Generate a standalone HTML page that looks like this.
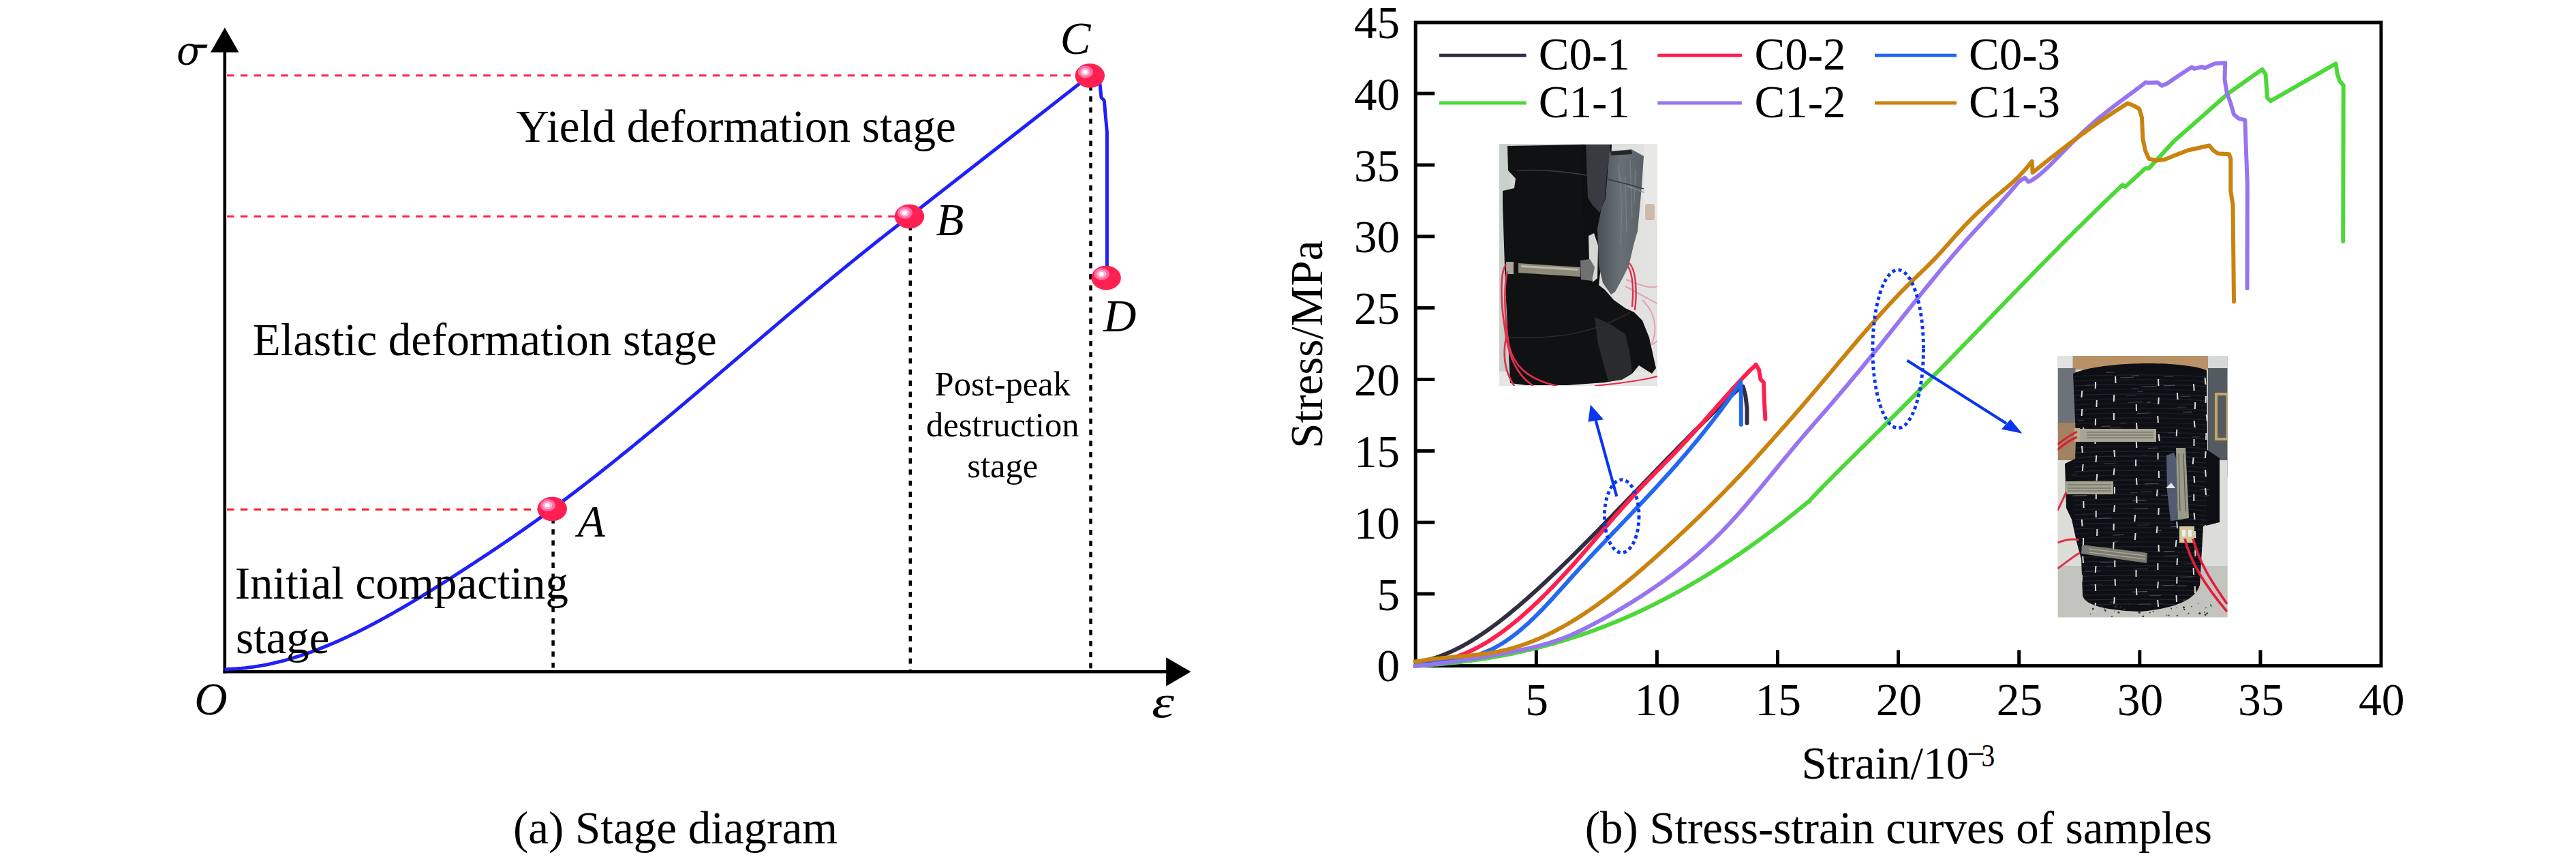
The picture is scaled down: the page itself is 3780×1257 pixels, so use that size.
<!DOCTYPE html><html><head><meta charset="utf-8"><style>
html,body{margin:0;padding:0;background:#fff;}
svg{display:block;}
text{font-family:"Liberation Serif",serif;fill:#000;}
</style></head><body>
<svg width="3780" height="1257" viewBox="0 0 3780 1257">
<defs>
<radialGradient id="ball" cx="0.35" cy="0.35" r="0.7">
<stop offset="0" stop-color="#ffffff"/>
<stop offset="0.12" stop-color="#ffe0f0"/>
<stop offset="0.2" stop-color="#ff90c0"/>
<stop offset="0.38" stop-color="#ff2a5e"/>
<stop offset="1" stop-color="#ff1f52"/>
</radialGradient>
</defs>

<g>
<line x1="329.8" y1="70" x2="329.8" y2="987.6" stroke="#000" stroke-width="4.6"/>
<polygon points="329.8,40.5 309,76.8 350.6,76.8" fill="#000"/>
<line x1="327.5" y1="985.3" x2="1716" y2="985.3" stroke="#000" stroke-width="4.6"/>
<polygon points="1747.5,985.3 1711.2,964.2 1711.2,1006.4" fill="#000"/>
<line x1="333" y1="110.8" x2="1590" y2="110.8" stroke="#ff2052" stroke-width="3" stroke-dasharray="10.5 9.3"/>
<line x1="333" y1="317.5" x2="1325" y2="317.5" stroke="#ff2050" stroke-width="3" stroke-dasharray="10.5 9.3"/>
<line x1="333" y1="747.3" x2="800" y2="747.3" stroke="#ff1c1c" stroke-width="3" stroke-dasharray="10.5 9.3"/>
<line x1="811.6" y1="760" x2="811.6" y2="984" stroke="#000" stroke-width="4.5" stroke-dasharray="7.7 8.6"/>
<line x1="1335.8" y1="330" x2="1335.8" y2="984" stroke="#000" stroke-width="4.5" stroke-dasharray="7.7 8.6"/>
<line x1="1600.5" y1="125" x2="1600.5" y2="984" stroke="#000" stroke-width="4.5" stroke-dasharray="7.7 8.6"/>
<path d="M332.0,982.0 L334.5,981.3 L337.0,981.3 L339.5,981.2 L342.0,981.0 L344.5,980.9 L347.0,980.8 L349.5,980.6 L352.0,980.4 L354.5,980.2 L357.0,979.9 L359.5,979.7 L362.0,979.4 L364.5,979.1 L367.0,978.8 L369.5,978.5 L372.0,978.1 L374.5,977.8 L377.0,977.4 L379.5,977.0 L382.0,976.5 L384.5,976.1 L387.0,975.6 L389.5,975.2 L392.0,974.7 L394.5,974.2 L397.0,973.6 L399.5,973.1 L402.0,972.5 L404.5,971.9 L407.0,971.3 L409.5,970.7 L412.0,970.1 L414.5,969.5 L417.0,968.8 L419.5,968.1 L422.0,967.4 L424.5,966.7 L427.0,966.0 L429.5,965.2 L432.0,964.5 L434.5,963.7 L437.0,962.9 L439.5,962.1 L442.0,961.3 L444.5,960.5 L447.0,959.6 L449.5,958.8 L452.0,957.9 L454.5,957.0 L457.0,956.1 L459.5,955.2 L462.0,954.3 L464.5,953.3 L467.0,952.4 L469.5,951.4 L472.0,950.4 L474.5,949.4 L477.0,948.4 L479.5,947.4 L482.0,946.4 L484.5,945.3 L487.0,944.2 L489.5,943.2 L492.0,942.1 L494.5,941.0 L497.0,939.9 L499.5,938.8 L502.0,937.6 L504.5,936.5 L507.0,935.3 L509.5,934.2 L512.0,933.0 L514.5,931.8 L517.0,930.6 L519.5,929.4 L522.0,928.2 L524.5,927.0 L527.0,925.7 L529.5,924.5 L532.0,923.2 L534.5,922.0 L537.0,920.7 L539.5,919.4 L542.0,918.1 L544.5,916.8 L547.0,915.5 L549.5,914.2 L552.0,912.8 L554.5,911.5 L557.0,910.2 L559.5,908.8 L562.0,907.4 L564.5,906.1 L567.0,904.7 L569.5,903.3 L572.0,901.9 L574.5,900.5 L577.0,899.1 L579.5,897.7 L582.0,896.2 L584.5,894.8 L587.0,893.4 L589.5,891.9 L592.0,890.5 L594.5,889.0 L597.0,887.5 L599.5,886.1 L602.0,884.6 L604.5,883.1 L607.0,881.6 L609.5,880.1 L612.0,878.6 L614.5,877.1 L617.0,875.6 L619.5,874.1 L622.0,872.5 L624.5,871.0 L627.0,869.5 L629.5,867.9 L632.0,866.4 L634.5,864.8 L637.0,863.3 L639.5,861.7 L642.0,860.1 L644.5,858.6 L647.0,857.0 L649.5,855.4 L652.0,853.8 L654.5,852.3 L657.0,850.7 L659.5,849.1 L662.0,847.5 L664.5,845.9 L667.0,844.3 L669.5,842.7 L672.0,841.1 L674.5,839.4 L677.0,837.8 L679.5,836.2 L682.0,834.6 L684.5,833.0 L687.0,831.4 L689.5,829.7 L692.0,828.1 L694.5,826.5 L697.0,824.8 L699.5,823.2 L702.0,821.5 L704.5,819.9 L707.0,818.3 L709.5,816.6 L712.0,814.9 L714.5,813.3 L717.0,811.6 L719.5,810.0 L722.0,808.3 L724.5,806.6 L727.0,804.9 L729.5,803.3 L732.0,801.6 L734.5,799.9 L737.0,798.2 L739.5,796.5 L742.0,794.8 L744.5,793.1 L747.0,791.4 L749.5,789.7 L752.0,788.0 L754.5,786.3 L757.0,784.5 L759.5,782.8 L762.0,781.1 L764.5,779.3 L767.0,777.6 L769.5,775.8 L772.0,774.1 L774.5,772.3 L777.0,770.6 L779.5,768.8 L782.0,767.0 L784.5,765.2 L787.0,763.5 L789.5,761.7 L792.0,759.9 L794.5,758.1 L797.0,756.3 L799.5,754.4 L802.0,752.6 L804.5,750.8 L807.0,749.0 L809.5,747.1 L812.0,745.3 L814.5,743.4 L817.0,741.6 L819.5,739.7 L822.0,737.9 L824.5,736.0 L827.0,734.1 L829.5,732.3 L832.0,730.4 L834.5,728.5 L837.0,726.6 L839.5,724.7 L842.0,722.8 L844.5,720.9 L847.0,719.0 L849.5,717.1 L852.0,715.2 L854.5,713.2 L857.0,711.3 L859.5,709.4 L862.0,707.4 L864.5,705.5 L867.0,703.5 L869.5,701.6 L872.0,699.6 L874.5,697.7 L877.0,695.7 L879.5,693.8 L882.0,691.8 L884.5,689.8 L887.0,687.8 L889.5,685.8 L892.0,683.9 L894.5,681.9 L897.0,679.9 L899.5,677.9 L902.0,675.9 L904.5,673.9 L907.0,671.9 L909.5,669.8 L912.0,667.8 L914.5,665.8 L917.0,663.8 L919.5,661.8 L922.0,659.7 L924.5,657.7 L927.0,655.7 L929.5,653.6 L932.0,651.6 L934.5,649.5 L937.0,647.5 L939.5,645.4 L942.0,643.4 L944.5,641.3 L947.0,639.3 L949.5,637.2 L952.0,635.1 L954.5,633.1 L957.0,631.0 L959.5,628.9 L962.0,626.9 L964.5,624.8 L967.0,622.7 L969.5,620.6 L972.0,618.5 L974.5,616.5 L977.0,614.4 L979.5,612.3 L982.0,610.2 L984.5,608.1 L987.0,606.0 L989.5,603.9 L992.0,601.8 L994.5,599.7 L997.0,597.6 L999.5,595.5 L1002.0,593.4 L1004.5,591.3 L1007.0,589.2 L1009.5,587.0 L1012.0,584.9 L1014.5,582.8 L1017.0,580.7 L1019.5,578.6 L1022.0,576.5 L1024.5,574.3 L1027.0,572.2 L1029.5,570.1 L1032.0,568.0 L1034.5,565.8 L1037.0,563.7 L1039.5,561.6 L1042.0,559.5 L1044.5,557.3 L1047.0,555.2 L1049.5,553.1 L1052.0,550.9 L1054.5,548.8 L1057.0,546.7 L1059.5,544.5 L1062.0,542.4 L1064.5,540.3 L1067.0,538.1 L1069.5,536.0 L1072.0,533.9 L1074.5,531.7 L1077.0,529.6 L1079.5,527.5 L1082.0,525.3 L1084.5,523.2 L1087.0,521.1 L1089.5,518.9 L1092.0,516.8 L1094.5,514.6 L1097.0,512.5 L1099.5,510.4 L1102.0,508.2 L1104.5,506.1 L1107.0,504.0 L1109.5,501.8 L1112.0,499.7 L1114.5,497.6 L1117.0,495.4 L1119.5,493.3 L1122.0,491.2 L1124.5,489.0 L1127.0,486.9 L1129.5,484.8 L1132.0,482.6 L1134.5,480.5 L1137.0,478.4 L1139.5,476.3 L1142.0,474.1 L1144.5,472.0 L1147.0,469.9 L1149.5,467.8 L1152.0,465.6 L1154.5,463.5 L1157.0,461.4 L1159.5,459.3 L1162.0,457.2 L1164.5,455.1 L1167.0,453.0 L1169.5,450.8 L1172.0,448.7 L1174.5,446.6 L1177.0,444.5 L1179.5,442.4 L1182.0,440.3 L1184.5,438.2 L1187.0,436.1 L1189.5,434.0 L1192.0,431.9 L1194.5,429.8 L1197.0,427.7 L1199.5,425.7 L1202.0,423.6 L1204.5,421.5 L1207.0,419.4 L1209.5,417.3 L1212.0,415.2 L1214.5,413.2 L1217.0,411.1 L1219.5,409.0 L1222.0,407.0 L1224.5,404.9 L1227.0,402.8 L1229.5,400.8 L1232.0,398.7 L1234.5,396.7 L1237.0,394.6 L1239.5,392.6 L1242.0,390.5 L1244.5,388.5 L1247.0,386.4 L1249.5,384.4 L1252.0,382.4 L1254.5,380.4 L1257.0,378.3 L1259.5,376.3 L1262.0,374.3 L1264.5,372.3 L1267.0,370.3 L1269.5,368.2 L1272.0,366.2 L1274.5,364.2 L1277.0,362.2 L1279.5,360.2 L1282.0,358.3 L1284.5,356.3 L1287.0,354.3 L1289.5,352.3 L1292.0,350.3 L1294.5,348.4 L1297.0,346.4 L1299.5,344.4 L1302.0,342.5 L1304.5,340.5 L1307.0,338.6 L1309.5,336.6 L1312.0,334.7 L1314.5,332.7 L1317.0,330.8 L1319.5,328.9 L1322.0,327.0 L1324.5,325.0 L1327.0,323.1 L1329.5,321.2 L1332.0,319.3 L1334.5,317.5 L1599.3,110.8 L1613.9,122.0 L1616.0,143.0 L1620.2,147.2 L1624.4,193.4 L1624.4,392.8 L1623.2,407.5" fill="none" stroke="#2020f8" stroke-width="5" stroke-linejoin="round" stroke-linecap="round"/>
<ellipse cx="810.3" cy="746.5" rx="21.7" ry="17.8" fill="#ff2052"/>
<ellipse cx="803.8" cy="741.0" rx="11" ry="9" fill="#ff6fa8"/>
<ellipse cx="803.5" cy="741.0" rx="7" ry="5.8" fill="#ffb0d4"/>
<ellipse cx="803.3" cy="741.0" rx="3.6" ry="3" fill="#ffffff"/>
<ellipse cx="1334.5" cy="317.5" rx="21.7" ry="17.8" fill="#ff2052"/>
<ellipse cx="1328.0" cy="312.0" rx="11" ry="9" fill="#ff6fa8"/>
<ellipse cx="1327.7" cy="312.0" rx="7" ry="5.8" fill="#ffb0d4"/>
<ellipse cx="1327.5" cy="312.0" rx="3.6" ry="3" fill="#ffffff"/>
<ellipse cx="1599.3" cy="111" rx="21.7" ry="17.8" fill="#ff2052"/>
<ellipse cx="1592.8" cy="105.5" rx="11" ry="9" fill="#ff6fa8"/>
<ellipse cx="1592.5" cy="105.5" rx="7" ry="5.8" fill="#ffb0d4"/>
<ellipse cx="1592.3" cy="105.5" rx="3.6" ry="3" fill="#ffffff"/>
<ellipse cx="1623.2" cy="407.5" rx="21.7" ry="17.8" fill="#ff2052"/>
<ellipse cx="1616.7" cy="402.0" rx="11" ry="9" fill="#ff6fa8"/>
<ellipse cx="1616.4" cy="402.0" rx="7" ry="5.8" fill="#ffb0d4"/>
<ellipse cx="1616.2" cy="402.0" rx="3.6" ry="3" fill="#ffffff"/>
<text x="757.3" y="207.6" font-size="67.2">Yield deformation stage</text>
<text x="370.8" y="521.2" font-size="67">Elastic deformation stage</text>
<text x="344.8" y="878" font-size="67">Initial compacting</text>
<text x="345.9" y="958" font-size="67">stage</text>
<text x="1471.2" y="580" font-size="50.5" text-anchor="middle">Post-peak</text>
<text x="1471.2" y="640" font-size="50.5" text-anchor="middle">destruction</text>
<text x="1471.2" y="700.3" font-size="50.5" text-anchor="middle">stage</text>
<text x="753" y="1237" font-size="67">(a) Stage diagram</text>
<g font-style="italic">
<text x="847.5" y="787.2" font-size="66">A</text>
<text x="1373.6" y="344.5" font-size="67">B</text>
<text x="1555.8" y="79.2" font-size="67">C</text>
<text x="1619" y="485.7" font-size="67">D</text>
<text x="285.2" y="1048.3" font-size="67">O</text>
<text x="1690" y="1052.3" font-size="67" transform="translate(1690,0) scale(1.25,1) translate(-1690,0)">ε</text>
<text x="259.4" y="95.4" font-size="65">o</text>
<path d="M276,66.6 C279,65.6 283,65.4 287,65.4 L304.6,65.4 L303.2,70.2 L289.5,70.2 L286,69.5 Z" fill="#000"/>
</g>
</g>
<g>
<g>
<defs><clipPath id="p1"><rect x="2200" y="211" width="232" height="355"/></clipPath>
<linearGradient id="bg1" x1="0" y1="0" x2="1" y2="0"><stop offset="0" stop-color="#cfd3cf"/><stop offset="0.6" stop-color="#dcdedb"/><stop offset="1" stop-color="#e3e4e2"/></linearGradient>
<linearGradient id="gp1" x1="0" y1="0" x2="1" y2="0"><stop offset="0" stop-color="#4a5055"/><stop offset="0.5" stop-color="#687076"/><stop offset="1" stop-color="#596066"/></linearGradient>
</defs>
<g clip-path="url(#p1)">
<rect x="2200" y="211" width="232" height="355" fill="url(#bg1)"/>
<rect x="2200" y="211" width="15" height="355" fill="#c9cfca"/>
<rect x="2412" y="211" width="20" height="110" fill="#e8e9e6"/>
<rect x="2414" y="299" width="14" height="24" rx="4" fill="#b89474" opacity="0.55"/>
<rect x="2200" y="545" width="232" height="21" fill="#e6e6e4"/>
<path d="M2386,410 C2400,415 2420,425 2432,420 M2385,420 C2405,430 2420,440 2432,445 M2410,440 C2425,455 2430,470 2428,490 C2425,505 2420,510 2432,500" stroke="#e690a8" stroke-width="2" fill="none" opacity="0.8"/>
<path d="M2383,386 C2395,390 2398,420 2395,450 M2388,384 C2402,392 2402,430 2399,455" stroke="#e0304a" stroke-width="2.4" fill="none"/>
<path d="M2212,214 L2327,212 L2329,300 L2333,370 L2338,412 L2355,425 L2368,440 L2385,452 L2398,458 L2410,470 L2420,495 L2430,540 L2424,548 L2405,536 L2395,548 L2380,556 L2355,561 L2300,565 L2240,565 L2216,562 L2213,500 L2209,420 L2205,300 L2205,280 L2222,276 L2224,262 L2213,250 Z" fill="#101112"/>
<path d="M2320,212 L2365,212 L2362,300 L2352,360 L2346,420 L2330,420 L2322,300 Z" fill="#0e0f10"/>
<path d="M2327,212 L2362,212 L2363,222 L2358,252 L2355,291 L2347,313 L2346,310 L2336,300 L2330,290 Z" fill="#383c40"/>
<path d="M2331,346 L2339,342 L2345,360 L2344,408 L2337,414 L2332,385 Z" fill="#d6d8d5"/>
<path d="M2362,222 L2394,219 L2412,229 L2409,274 L2403,339 L2398,356 L2390,390 L2380,410 L2370,428 L2364,432 L2352,415 L2346,390 L2344,335 L2350,305 L2356,291 L2359,252 Z" fill="url(#gp1)"/>
<path d="M2363,222 L2394,220 L2395,226 L2364,228 Z" fill="#222426"/>
<path d="M2375,240 L2380,300 L2378,360 M2392,235 L2395,320 M2400,250 L2398,300 M2385,260 L2387,340" stroke="#7c848a" stroke-width="1.3" fill="none" opacity="0.8"/>
<path d="M2340,465 L2362,475 L2385,490 L2392,520 L2395,548 L2380,557 L2360,560 L2352,530 L2345,505 Z" fill="#2a2b2d"/>
<path d="M2226,250 C2270,248 2330,252 2412,277" stroke="#3c3c3e" stroke-width="1.6" fill="none"/>
<path d="M2388,273 C2398,276 2405,280 2412,282" stroke="#8a8a8a" stroke-width="1.5" fill="none"/>
<path d="M2213,495 C2270,497 2330,494 2392,458" stroke="#2a2a2c" stroke-width="1.5" fill="none"/>
<path d="M2228,386 L2319,392 L2319,406 L2228,400 Z" fill="#8d897a"/>
<path d="M2232,389 L2316,394 L2316,397 L2232,392 Z" fill="#bdb8a6"/>
<rect x="2210" y="384" width="11" height="18" fill="#a8a496"/>
<path d="M2319,382 L2333,380 L2340,392 L2336,412 L2320,410 Z" fill="#6e7072"/>
<path d="M2210,388 C2200,400 2203,450 2208,480 C2212,520 2225,550 2250,566 M2212,398 C2206,420 2208,470 2214,505 C2220,535 2240,556 2285,566 M2210,495 C2205,520 2208,545 2222,566" stroke="#e0304a" stroke-width="2.6" fill="none"/>
<path d="M2340,566 C2380,562 2410,558 2432,552" stroke="#e0304a" stroke-width="2" fill="none"/>
</g></g>
<g>
<defs><clipPath id="p2"><rect x="3019.5" y="522" width="249.2" height="383.5"/></clipPath></defs>
<g clip-path="url(#p2)">
<rect x="3019.5" y="522" width="249.2" height="383.5" fill="#cfcfca"/>
<rect x="3019.5" y="522" width="249.2" height="20" fill="#b89266"/>
<rect x="3019.5" y="522" width="22" height="22" fill="#e2e2e0"/>
<rect x="3240" y="522" width="28.7" height="20" fill="#d6d8da"/>
<rect x="3019.5" y="540" width="26" height="90" fill="#6c7278"/>
<rect x="3019.5" y="620" width="26" height="55" fill="#a08262"/>
<rect x="3240" y="540" width="28.7" height="160" fill="#545a60"/>
<rect x="3252" y="578" width="16.7" height="66" fill="none" stroke="#c8a468" stroke-width="4"/>
<rect x="3019.5" y="675" width="249.2" height="230.5" fill="#dcdcd8"/>
<rect x="3019.5" y="830" width="249.2" height="75.5" fill="#c4c4bf"/>
<defs><clipPath id="cyl2"><path d="M3042,548 C3080,530 3200,528 3238,543 L3239,660 L3257,672 L3257,766 L3233,772 L3228,858 C3222,880 3190,893 3140,897 C3080,895 3058,885 3056,873 L3054,820 L3047,794 L3040,762 L3032,745 L3030,680 L3045,673 L3046,640 Z"/></clipPath></defs>
<path d="M3042,548 C3080,530 3200,528 3238,543 L3239,660 L3257,672 L3257,766 L3233,772 L3228,858 C3222,880 3190,893 3140,897 C3080,895 3058,885 3056,873 L3054,820 L3047,794 L3040,762 L3032,745 L3030,680 L3045,673 L3046,640 Z" fill="#0e0f14"/>
<g clip-path="url(#cyl2)">
<path d="M3044,552 C3100,549 3190,549 3238,553" stroke="#40444f" stroke-width="1.3" fill="none" opacity="0.33"/>
<path d="M3044,559 C3100,556 3190,556 3238,560" stroke="#40444f" stroke-width="1.3" fill="none" opacity="0.29"/>
<path d="M3044,566 C3100,563 3190,563 3238,567" stroke="#40444f" stroke-width="1.3" fill="none" opacity="0.41"/>
<path d="M3044,573 C3100,570 3190,570 3238,574" stroke="#40444f" stroke-width="1.3" fill="none" opacity="0.27"/>
<path d="M3044,580 C3100,577 3190,577 3238,581" stroke="#40444f" stroke-width="1.3" fill="none" opacity="0.38"/>
<path d="M3044,587 C3100,584 3190,584 3238,588" stroke="#40444f" stroke-width="1.3" fill="none" opacity="0.34"/>
<path d="M3044,594 C3100,591 3190,591 3238,595" stroke="#40444f" stroke-width="1.3" fill="none" opacity="0.26"/>
<path d="M3044,601 C3100,598 3190,598 3238,602" stroke="#40444f" stroke-width="1.3" fill="none" opacity="0.38"/>
<path d="M3044,608 C3100,605 3190,605 3238,609" stroke="#40444f" stroke-width="1.3" fill="none" opacity="0.26"/>
<path d="M3044,615 C3100,612 3190,612 3238,616" stroke="#40444f" stroke-width="1.3" fill="none" opacity="0.36"/>
<path d="M3044,622 C3100,619 3190,619 3238,623" stroke="#40444f" stroke-width="1.3" fill="none" opacity="0.27"/>
<path d="M3044,629 C3100,626 3190,626 3238,630" stroke="#40444f" stroke-width="1.3" fill="none" opacity="0.27"/>
<path d="M3044,636 C3100,633 3190,633 3238,637" stroke="#40444f" stroke-width="1.3" fill="none" opacity="0.36"/>
<path d="M3044,643 C3100,640 3190,640 3238,644" stroke="#40444f" stroke-width="1.3" fill="none" opacity="0.46"/>
<path d="M3044,650 C3100,647 3190,647 3238,651" stroke="#40444f" stroke-width="1.3" fill="none" opacity="0.28"/>
<path d="M3044,657 C3100,654 3190,654 3238,658" stroke="#40444f" stroke-width="1.3" fill="none" opacity="0.31"/>
<path d="M3044,664 C3100,661 3190,661 3238,665" stroke="#40444f" stroke-width="1.3" fill="none" opacity="0.41"/>
<path d="M3044,671 C3100,668 3190,668 3238,672" stroke="#40444f" stroke-width="1.3" fill="none" opacity="0.49"/>
<path d="M3044,678 C3100,675 3190,675 3238,679" stroke="#40444f" stroke-width="1.3" fill="none" opacity="0.39"/>
<path d="M3044,685 C3100,682 3190,682 3238,686" stroke="#40444f" stroke-width="1.3" fill="none" opacity="0.35"/>
<path d="M3044,692 C3100,689 3190,689 3238,693" stroke="#40444f" stroke-width="1.3" fill="none" opacity="0.49"/>
<path d="M3044,699 C3100,696 3190,696 3238,700" stroke="#40444f" stroke-width="1.3" fill="none" opacity="0.26"/>
<path d="M3044,706 C3100,703 3190,703 3238,707" stroke="#40444f" stroke-width="1.3" fill="none" opacity="0.46"/>
<path d="M3044,713 C3100,710 3190,710 3238,714" stroke="#40444f" stroke-width="1.3" fill="none" opacity="0.32"/>
<path d="M3044,720 C3100,717 3190,717 3238,721" stroke="#40444f" stroke-width="1.3" fill="none" opacity="0.29"/>
<path d="M3044,727 C3100,724 3190,724 3238,728" stroke="#40444f" stroke-width="1.3" fill="none" opacity="0.28"/>
<path d="M3044,734 C3100,731 3190,731 3238,735" stroke="#40444f" stroke-width="1.3" fill="none" opacity="0.33"/>
<path d="M3044,741 C3100,738 3190,738 3238,742" stroke="#40444f" stroke-width="1.3" fill="none" opacity="0.45"/>
<path d="M3044,748 C3100,745 3190,745 3238,749" stroke="#40444f" stroke-width="1.3" fill="none" opacity="0.30"/>
<path d="M3044,755 C3100,752 3190,752 3238,756" stroke="#40444f" stroke-width="1.3" fill="none" opacity="0.40"/>
<path d="M3044,762 C3100,759 3190,759 3238,763" stroke="#40444f" stroke-width="1.3" fill="none" opacity="0.41"/>
<path d="M3044,769 C3100,766 3190,766 3238,770" stroke="#40444f" stroke-width="1.3" fill="none" opacity="0.34"/>
<path d="M3044,776 C3100,773 3190,773 3238,777" stroke="#40444f" stroke-width="1.3" fill="none" opacity="0.39"/>
<path d="M3044,783 C3100,780 3190,780 3238,784" stroke="#40444f" stroke-width="1.3" fill="none" opacity="0.27"/>
<path d="M3044,790 C3100,787 3190,787 3238,791" stroke="#40444f" stroke-width="1.3" fill="none" opacity="0.26"/>
<path d="M3044,797 C3100,794 3190,794 3238,798" stroke="#40444f" stroke-width="1.3" fill="none" opacity="0.30"/>
<path d="M3044,804 C3100,801 3190,801 3238,805" stroke="#40444f" stroke-width="1.3" fill="none" opacity="0.42"/>
<path d="M3044,811 C3100,808 3190,808 3238,812" stroke="#40444f" stroke-width="1.3" fill="none" opacity="0.36"/>
<path d="M3044,818 C3100,815 3190,815 3238,819" stroke="#40444f" stroke-width="1.3" fill="none" opacity="0.33"/>
<path d="M3044,825 C3100,822 3190,822 3238,826" stroke="#40444f" stroke-width="1.3" fill="none" opacity="0.40"/>
<path d="M3044,832 C3100,829 3190,829 3238,833" stroke="#40444f" stroke-width="1.3" fill="none" opacity="0.36"/>
<path d="M3044,839 C3100,836 3190,836 3238,840" stroke="#40444f" stroke-width="1.3" fill="none" opacity="0.32"/>
<path d="M3044,846 C3100,843 3190,843 3238,847" stroke="#40444f" stroke-width="1.3" fill="none" opacity="0.45"/>
<path d="M3044,853 C3100,850 3190,850 3238,854" stroke="#40444f" stroke-width="1.3" fill="none" opacity="0.42"/>
<path d="M3044,860 C3100,857 3190,857 3238,861" stroke="#40444f" stroke-width="1.3" fill="none" opacity="0.31"/>
<path d="M3044,867 C3100,864 3190,864 3238,868" stroke="#40444f" stroke-width="1.3" fill="none" opacity="0.39"/>
<path d="M3044,874 C3100,871 3190,871 3238,875" stroke="#40444f" stroke-width="1.3" fill="none" opacity="0.38"/>
<path d="M3044,881 C3100,878 3190,878 3238,882" stroke="#40444f" stroke-width="1.3" fill="none" opacity="0.47"/>
<path d="M3044,888 C3100,885 3190,885 3238,889" stroke="#40444f" stroke-width="1.3" fill="none" opacity="0.43"/>
<line x1="3095.5" y1="883.2" x2="3103.4" y2="882.9" stroke="#8a92a0" stroke-width="1.1" opacity="0.40"/>
<line x1="3194.0" y1="597.4" x2="3207.8" y2="597.0" stroke="#8a92a0" stroke-width="1.1" opacity="0.26"/>
<line x1="3175.3" y1="808.8" x2="3190.5" y2="808.3" stroke="#8a92a0" stroke-width="1.1" opacity="0.56"/>
<line x1="3100.9" y1="784.9" x2="3116.4" y2="784.4" stroke="#8a92a0" stroke-width="1.1" opacity="0.45"/>
<line x1="3130.8" y1="834.8" x2="3151.9" y2="834.2" stroke="#8a92a0" stroke-width="1.1" opacity="0.42"/>
<line x1="3174.5" y1="565.9" x2="3191.7" y2="565.4" stroke="#8a92a0" stroke-width="1.1" opacity="0.48"/>
<line x1="3243.6" y1="828.6" x2="3254.1" y2="828.2" stroke="#8a92a0" stroke-width="1.1" opacity="0.39"/>
<line x1="3175.4" y1="552.8" x2="3188.8" y2="552.4" stroke="#8a92a0" stroke-width="1.1" opacity="0.31"/>
<line x1="3059.6" y1="565.3" x2="3077.9" y2="564.8" stroke="#8a92a0" stroke-width="1.1" opacity="0.30"/>
<line x1="3087.0" y1="679.9" x2="3106.9" y2="679.3" stroke="#8a92a0" stroke-width="1.1" opacity="0.28"/>
<line x1="3129.3" y1="734.6" x2="3149.5" y2="734.0" stroke="#8a92a0" stroke-width="1.1" opacity="0.54"/>
<line x1="3216.4" y1="641.1" x2="3229.1" y2="640.7" stroke="#8a92a0" stroke-width="1.1" opacity="0.38"/>
<line x1="3220.7" y1="875.4" x2="3229.1" y2="875.2" stroke="#8a92a0" stroke-width="1.1" opacity="0.31"/>
<line x1="3083.7" y1="625.5" x2="3097.5" y2="625.1" stroke="#8a92a0" stroke-width="1.1" opacity="0.46"/>
<line x1="3090.2" y1="546.4" x2="3102.9" y2="546.0" stroke="#8a92a0" stroke-width="1.1" opacity="0.38"/>
<line x1="3153.9" y1="873.8" x2="3171.0" y2="873.3" stroke="#8a92a0" stroke-width="1.1" opacity="0.43"/>
<line x1="3164.7" y1="778.3" x2="3171.6" y2="778.1" stroke="#8a92a0" stroke-width="1.1" opacity="0.56"/>
<line x1="3198.8" y1="846.7" x2="3217.6" y2="846.1" stroke="#8a92a0" stroke-width="1.1" opacity="0.39"/>
<line x1="3118.8" y1="580.7" x2="3134.9" y2="580.2" stroke="#8a92a0" stroke-width="1.1" opacity="0.27"/>
<line x1="3049.1" y1="617.0" x2="3057.7" y2="616.8" stroke="#8a92a0" stroke-width="1.1" opacity="0.37"/>
<line x1="3046.0" y1="545.1" x2="3054.5" y2="544.8" stroke="#8a92a0" stroke-width="1.1" opacity="0.29"/>
<line x1="3111.4" y1="553.8" x2="3131.3" y2="553.2" stroke="#8a92a0" stroke-width="1.1" opacity="0.46"/>
<line x1="3066.2" y1="632.0" x2="3077.8" y2="631.7" stroke="#8a92a0" stroke-width="1.1" opacity="0.38"/>
<line x1="3060.8" y1="837.9" x2="3082.7" y2="837.2" stroke="#8a92a0" stroke-width="1.1" opacity="0.41"/>
<line x1="3136.6" y1="574.6" x2="3144.2" y2="574.4" stroke="#8a92a0" stroke-width="1.1" opacity="0.37"/>
<line x1="3090.6" y1="831.0" x2="3099.2" y2="830.7" stroke="#8a92a0" stroke-width="1.1" opacity="0.26"/>
<line x1="3234.7" y1="727.2" x2="3243.1" y2="727.0" stroke="#8a92a0" stroke-width="1.1" opacity="0.44"/>
<line x1="3040.7" y1="727.2" x2="3062.3" y2="726.5" stroke="#8a92a0" stroke-width="1.1" opacity="0.55"/>
<line x1="3181.2" y1="635.1" x2="3193.1" y2="634.7" stroke="#8a92a0" stroke-width="1.1" opacity="0.31"/>
<line x1="3197.1" y1="728.7" x2="3215.6" y2="728.2" stroke="#8a92a0" stroke-width="1.1" opacity="0.37"/>
<line x1="3081.8" y1="825.0" x2="3103.6" y2="824.3" stroke="#8a92a0" stroke-width="1.1" opacity="0.55"/>
<line x1="3204.3" y1="827.3" x2="3222.1" y2="826.8" stroke="#8a92a0" stroke-width="1.1" opacity="0.33"/>
<line x1="3143.7" y1="667.7" x2="3150.2" y2="667.5" stroke="#8a92a0" stroke-width="1.1" opacity="0.26"/>
<line x1="3093.7" y1="634.4" x2="3110.8" y2="633.9" stroke="#8a92a0" stroke-width="1.1" opacity="0.58"/>
<line x1="3128.9" y1="868.3" x2="3150.7" y2="867.6" stroke="#8a92a0" stroke-width="1.1" opacity="0.58"/>
<line x1="3111.6" y1="621.1" x2="3121.2" y2="620.8" stroke="#8a92a0" stroke-width="1.1" opacity="0.32"/>
<line x1="3077.9" y1="760.3" x2="3098.3" y2="759.7" stroke="#8a92a0" stroke-width="1.1" opacity="0.54"/>
<line x1="3135.7" y1="770.3" x2="3154.5" y2="769.7" stroke="#8a92a0" stroke-width="1.1" opacity="0.28"/>
<line x1="3173.7" y1="858.9" x2="3192.2" y2="858.3" stroke="#8a92a0" stroke-width="1.1" opacity="0.51"/>
<line x1="3135.4" y1="606.6" x2="3154.0" y2="606.0" stroke="#8a92a0" stroke-width="1.1" opacity="0.37"/>
<line x1="3203.2" y1="880.2" x2="3215.5" y2="879.9" stroke="#8a92a0" stroke-width="1.1" opacity="0.39"/>
<line x1="3233.8" y1="795.1" x2="3242.5" y2="794.8" stroke="#8a92a0" stroke-width="1.1" opacity="0.29"/>
<line x1="3066.7" y1="857.2" x2="3085.6" y2="856.6" stroke="#8a92a0" stroke-width="1.1" opacity="0.30"/>
<line x1="3208.6" y1="883.2" x2="3225.1" y2="882.7" stroke="#8a92a0" stroke-width="1.1" opacity="0.37"/>
<line x1="3150.2" y1="590.2" x2="3156.4" y2="590.0" stroke="#8a92a0" stroke-width="1.1" opacity="0.59"/>
<line x1="3171.4" y1="726.7" x2="3192.4" y2="726.0" stroke="#8a92a0" stroke-width="1.1" opacity="0.40"/>
<line x1="3218.1" y1="830.0" x2="3227.4" y2="829.7" stroke="#8a92a0" stroke-width="1.1" opacity="0.34"/>
<line x1="3096.5" y1="628.0" x2="3111.9" y2="627.5" stroke="#8a92a0" stroke-width="1.1" opacity="0.34"/>
<line x1="3123.0" y1="590.2" x2="3143.6" y2="589.6" stroke="#8a92a0" stroke-width="1.1" opacity="0.37"/>
<line x1="3131.2" y1="746.3" x2="3151.7" y2="745.6" stroke="#8a92a0" stroke-width="1.1" opacity="0.40"/>
<line x1="3227.7" y1="718.1" x2="3242.2" y2="717.6" stroke="#8a92a0" stroke-width="1.1" opacity="0.43"/>
<line x1="3038.9" y1="696.8" x2="3047.9" y2="696.6" stroke="#8a92a0" stroke-width="1.1" opacity="0.25"/>
<line x1="3202.8" y1="604.5" x2="3216.4" y2="604.1" stroke="#8a92a0" stroke-width="1.1" opacity="0.50"/>
<line x1="3151.9" y1="657.5" x2="3166.2" y2="657.0" stroke="#8a92a0" stroke-width="1.1" opacity="0.44"/>
<line x1="3199.7" y1="581.6" x2="3214.7" y2="581.2" stroke="#8a92a0" stroke-width="1.1" opacity="0.34"/>
<line x1="3093.2" y1="811.4" x2="3107.3" y2="811.0" stroke="#8a92a0" stroke-width="1.1" opacity="0.45"/>
<line x1="3194.6" y1="859.8" x2="3207.7" y2="859.4" stroke="#8a92a0" stroke-width="1.1" opacity="0.46"/>
<line x1="3141.2" y1="721.7" x2="3158.2" y2="721.2" stroke="#8a92a0" stroke-width="1.1" opacity="0.41"/>
<line x1="3147.0" y1="709.9" x2="3168.1" y2="709.3" stroke="#8a92a0" stroke-width="1.1" opacity="0.49"/>
<line x1="3219.1" y1="870.1" x2="3229.2" y2="869.7" stroke="#8a92a0" stroke-width="1.1" opacity="0.45"/>
<line x1="3233.1" y1="834.8" x2="3241.3" y2="834.6" stroke="#8a92a0" stroke-width="1.1" opacity="0.29"/>
<line x1="3127.8" y1="570.0" x2="3137.7" y2="569.7" stroke="#8a92a0" stroke-width="1.1" opacity="0.28"/>
<line x1="3175.6" y1="815.5" x2="3195.9" y2="814.8" stroke="#8a92a0" stroke-width="1.1" opacity="0.30"/>
<line x1="3185.4" y1="772.8" x2="3193.7" y2="772.5" stroke="#8a92a0" stroke-width="1.1" opacity="0.56"/>
<line x1="3238.2" y1="620.8" x2="3259.4" y2="620.1" stroke="#8a92a0" stroke-width="1.1" opacity="0.39"/>
<line x1="3137.3" y1="886.5" x2="3156.6" y2="885.9" stroke="#8a92a0" stroke-width="1.1" opacity="0.31"/>
<line x1="3125.6" y1="722.9" x2="3137.0" y2="722.5" stroke="#8a92a0" stroke-width="1.1" opacity="0.32"/>
<line x1="3101.9" y1="794.1" x2="3108.2" y2="794.0" stroke="#8a92a0" stroke-width="1.1" opacity="0.44"/>
<line x1="3127.5" y1="551.2" x2="3138.8" y2="550.9" stroke="#8a92a0" stroke-width="1.1" opacity="0.47"/>
<line x1="3142.6" y1="567.2" x2="3164.3" y2="566.5" stroke="#8a92a0" stroke-width="1.1" opacity="0.53"/>
<line x1="3055.3" y1="573" x2="3054.4" y2="583" stroke="#dcdcdc" stroke-width="2"/>
<line x1="3055.3" y1="600" x2="3054.6" y2="610" stroke="#dcdcdc" stroke-width="2"/>
<line x1="3057.2" y1="627" x2="3057.9" y2="637" stroke="#dcdcdc" stroke-width="2"/>
<line x1="3054.9" y1="654" x2="3055.8" y2="664" stroke="#dcdcdc" stroke-width="2"/>
<line x1="3056.6" y1="681" x2="3055.8" y2="691" stroke="#dcdcdc" stroke-width="2"/>
<line x1="3056.6" y1="708" x2="3056.4" y2="718" stroke="#dcdcdc" stroke-width="2"/>
<line x1="3057.3" y1="735" x2="3057.6" y2="745" stroke="#dcdcdc" stroke-width="2"/>
<line x1="3054.8" y1="762" x2="3055.5" y2="772" stroke="#dcdcdc" stroke-width="2"/>
<line x1="3057.1" y1="789" x2="3057.0" y2="799" stroke="#dcdcdc" stroke-width="2"/>
<line x1="3056.2" y1="816" x2="3057.0" y2="826" stroke="#dcdcdc" stroke-width="2"/>
<line x1="3054.9" y1="843" x2="3054.9" y2="853" stroke="#dcdcdc" stroke-width="2"/>
<line x1="3054.8" y1="870" x2="3054.2" y2="880" stroke="#dcdcdc" stroke-width="2"/>
<line x1="3075.1" y1="560" x2="3074.7" y2="570" stroke="#dcdcdc" stroke-width="2"/>
<line x1="3076.8" y1="587" x2="3076.4" y2="597" stroke="#dcdcdc" stroke-width="2"/>
<line x1="3075.0" y1="614" x2="3074.7" y2="624" stroke="#dcdcdc" stroke-width="2"/>
<line x1="3075.3" y1="641" x2="3074.3" y2="651" stroke="#dcdcdc" stroke-width="2"/>
<line x1="3076.2" y1="668" x2="3075.5" y2="678" stroke="#dcdcdc" stroke-width="2"/>
<line x1="3077.3" y1="695" x2="3076.5" y2="705" stroke="#dcdcdc" stroke-width="2"/>
<line x1="3075.8" y1="722" x2="3075.8" y2="732" stroke="#dcdcdc" stroke-width="2"/>
<line x1="3075.7" y1="749" x2="3075.7" y2="759" stroke="#dcdcdc" stroke-width="2"/>
<line x1="3077.4" y1="776" x2="3077.1" y2="786" stroke="#dcdcdc" stroke-width="2"/>
<line x1="3076.6" y1="803" x2="3076.9" y2="813" stroke="#dcdcdc" stroke-width="2"/>
<line x1="3075.5" y1="830" x2="3074.7" y2="840" stroke="#dcdcdc" stroke-width="2"/>
<line x1="3074.7" y1="857" x2="3075.2" y2="867" stroke="#dcdcdc" stroke-width="2"/>
<line x1="3075.0" y1="884" x2="3074.2" y2="894" stroke="#dcdcdc" stroke-width="2"/>
<line x1="3104.1" y1="552" x2="3104.5" y2="562" stroke="#dcdcdc" stroke-width="2"/>
<line x1="3102.2" y1="579" x2="3101.8" y2="589" stroke="#dcdcdc" stroke-width="2"/>
<line x1="3102.0" y1="606" x2="3101.9" y2="616" stroke="#dcdcdc" stroke-width="2"/>
<line x1="3104.4" y1="633" x2="3105.3" y2="643" stroke="#dcdcdc" stroke-width="2"/>
<line x1="3102.2" y1="660" x2="3103.2" y2="670" stroke="#dcdcdc" stroke-width="2"/>
<line x1="3102.6" y1="687" x2="3101.6" y2="697" stroke="#dcdcdc" stroke-width="2"/>
<line x1="3102.9" y1="714" x2="3102.9" y2="724" stroke="#dcdcdc" stroke-width="2"/>
<line x1="3103.0" y1="741" x2="3102.0" y2="751" stroke="#dcdcdc" stroke-width="2"/>
<line x1="3101.8" y1="768" x2="3101.6" y2="778" stroke="#dcdcdc" stroke-width="2"/>
<line x1="3101.6" y1="795" x2="3101.2" y2="805" stroke="#dcdcdc" stroke-width="2"/>
<line x1="3103.3" y1="822" x2="3103.3" y2="832" stroke="#dcdcdc" stroke-width="2"/>
<line x1="3103.5" y1="849" x2="3103.9" y2="859" stroke="#dcdcdc" stroke-width="2"/>
<line x1="3102.7" y1="876" x2="3102.3" y2="886" stroke="#dcdcdc" stroke-width="2"/>
<line x1="3134.7" y1="593" x2="3135.0" y2="603" stroke="#dcdcdc" stroke-width="2"/>
<line x1="3135.0" y1="620" x2="3135.8" y2="630" stroke="#dcdcdc" stroke-width="2"/>
<line x1="3134.7" y1="647" x2="3135.3" y2="657" stroke="#dcdcdc" stroke-width="2"/>
<line x1="3134.1" y1="674" x2="3134.1" y2="684" stroke="#dcdcdc" stroke-width="2"/>
<line x1="3134.9" y1="701" x2="3135.6" y2="711" stroke="#dcdcdc" stroke-width="2"/>
<line x1="3135.2" y1="728" x2="3135.5" y2="738" stroke="#dcdcdc" stroke-width="2"/>
<line x1="3133.2" y1="755" x2="3132.3" y2="765" stroke="#dcdcdc" stroke-width="2"/>
<line x1="3133.6" y1="782" x2="3132.8" y2="792" stroke="#dcdcdc" stroke-width="2"/>
<line x1="3134.2" y1="809" x2="3134.4" y2="819" stroke="#dcdcdc" stroke-width="2"/>
<line x1="3134.5" y1="836" x2="3134.5" y2="846" stroke="#dcdcdc" stroke-width="2"/>
<line x1="3134.9" y1="863" x2="3135.4" y2="873" stroke="#dcdcdc" stroke-width="2"/>
<line x1="3167.1" y1="556" x2="3167.4" y2="566" stroke="#dcdcdc" stroke-width="2"/>
<line x1="3167.7" y1="583" x2="3167.2" y2="593" stroke="#dcdcdc" stroke-width="2"/>
<line x1="3166.3" y1="610" x2="3166.8" y2="620" stroke="#dcdcdc" stroke-width="2"/>
<line x1="3167.7" y1="637" x2="3168.7" y2="647" stroke="#dcdcdc" stroke-width="2"/>
<line x1="3166.6" y1="664" x2="3166.6" y2="674" stroke="#dcdcdc" stroke-width="2"/>
<line x1="3167.8" y1="691" x2="3168.0" y2="701" stroke="#dcdcdc" stroke-width="2"/>
<line x1="3165.7" y1="718" x2="3165.0" y2="728" stroke="#dcdcdc" stroke-width="2"/>
<line x1="3167.7" y1="745" x2="3167.3" y2="755" stroke="#dcdcdc" stroke-width="2"/>
<line x1="3165.5" y1="772" x2="3164.7" y2="782" stroke="#dcdcdc" stroke-width="2"/>
<line x1="3167.5" y1="799" x2="3167.9" y2="809" stroke="#dcdcdc" stroke-width="2"/>
<line x1="3166.4" y1="826" x2="3166.4" y2="836" stroke="#dcdcdc" stroke-width="2"/>
<line x1="3166.9" y1="853" x2="3166.1" y2="863" stroke="#dcdcdc" stroke-width="2"/>
<line x1="3166.1" y1="880" x2="3167.1" y2="890" stroke="#dcdcdc" stroke-width="2"/>
<line x1="3194.9" y1="576" x2="3195.5" y2="586" stroke="#dcdcdc" stroke-width="2"/>
<line x1="3194.3" y1="630" x2="3193.7" y2="640" stroke="#dcdcdc" stroke-width="2"/>
<line x1="3195.2" y1="684" x2="3194.5" y2="694" stroke="#dcdcdc" stroke-width="2"/>
<line x1="3196.4" y1="711" x2="3195.6" y2="721" stroke="#dcdcdc" stroke-width="2"/>
<line x1="3195.0" y1="738" x2="3195.8" y2="748" stroke="#dcdcdc" stroke-width="2"/>
<line x1="3194.2" y1="765" x2="3195.0" y2="775" stroke="#dcdcdc" stroke-width="2"/>
<line x1="3193.6" y1="792" x2="3192.6" y2="802" stroke="#dcdcdc" stroke-width="2"/>
<line x1="3194.9" y1="819" x2="3194.5" y2="829" stroke="#dcdcdc" stroke-width="2"/>
<line x1="3194.5" y1="846" x2="3194.2" y2="856" stroke="#dcdcdc" stroke-width="2"/>
<line x1="3193.5" y1="873" x2="3194.0" y2="883" stroke="#dcdcdc" stroke-width="2"/>
<line x1="3218.9" y1="563" x2="3219.7" y2="573" stroke="#dcdcdc" stroke-width="2"/>
<line x1="3221.2" y1="590" x2="3220.8" y2="600" stroke="#dcdcdc" stroke-width="2"/>
<line x1="3219.7" y1="617" x2="3220.7" y2="627" stroke="#dcdcdc" stroke-width="2"/>
<line x1="3219.6" y1="644" x2="3219.4" y2="654" stroke="#dcdcdc" stroke-width="2"/>
<line x1="3218.6" y1="671" x2="3217.8" y2="681" stroke="#dcdcdc" stroke-width="2"/>
<line x1="3219.4" y1="698" x2="3220.2" y2="708" stroke="#dcdcdc" stroke-width="2"/>
<line x1="3219.3" y1="725" x2="3219.3" y2="735" stroke="#dcdcdc" stroke-width="2"/>
<line x1="3219.6" y1="752" x2="3220.5" y2="762" stroke="#dcdcdc" stroke-width="2"/>
<line x1="3220.9" y1="779" x2="3221.2" y2="789" stroke="#dcdcdc" stroke-width="2"/>
<line x1="3221.3" y1="806" x2="3221.4" y2="816" stroke="#dcdcdc" stroke-width="2"/>
<line x1="3218.6" y1="833" x2="3219.1" y2="843" stroke="#dcdcdc" stroke-width="2"/>
<line x1="3220.8" y1="860" x2="3221.0" y2="870" stroke="#dcdcdc" stroke-width="2"/>
<line x1="3235.6" y1="554" x2="3236.5" y2="564" stroke="#dcdcdc" stroke-width="2"/>
<line x1="3236.9" y1="581" x2="3236.6" y2="591" stroke="#dcdcdc" stroke-width="2"/>
<line x1="3237.7" y1="608" x2="3238.7" y2="618" stroke="#dcdcdc" stroke-width="2"/>
<line x1="3237.5" y1="635" x2="3237.1" y2="645" stroke="#dcdcdc" stroke-width="2"/>
<line x1="3236.7" y1="662" x2="3236.0" y2="672" stroke="#dcdcdc" stroke-width="2"/>
<line x1="3236.1" y1="689" x2="3236.9" y2="699" stroke="#dcdcdc" stroke-width="2"/>
<line x1="3236.2" y1="716" x2="3237.0" y2="726" stroke="#dcdcdc" stroke-width="2"/>
<line x1="3235.9" y1="770" x2="3235.3" y2="780" stroke="#dcdcdc" stroke-width="2"/>
<line x1="3236.5" y1="797" x2="3235.7" y2="807" stroke="#dcdcdc" stroke-width="2"/>
<line x1="3236.3" y1="824" x2="3236.4" y2="834" stroke="#dcdcdc" stroke-width="2"/>
<line x1="3237.7" y1="851" x2="3237.6" y2="861" stroke="#dcdcdc" stroke-width="2"/>
<line x1="3237.1" y1="878" x2="3236.8" y2="888" stroke="#dcdcdc" stroke-width="2"/>
</g>
<rect x="3048" y="629" width="116" height="19" fill="#a8a796"/>
<path d="M3062,634 L3160,634 M3062,638 L3160,638 M3062,642 L3160,642" stroke="#5d5c54" stroke-width="1"/>
<rect x="3044" y="628" width="8" height="20" fill="#b8b090"/>
<rect x="3030" y="706" width="71" height="19" fill="#a5a493"/>
<path d="M3034,711 L3098,711 M3034,716 L3098,716 M3034,720 L3098,720" stroke="#5d5c54" stroke-width="1"/>
<path d="M3055,799 L3151,811 L3150,826 L3054,812 Z" fill="#7b7a70"/>
<path d="M3065,805 L3148,815 M3065,810 L3148,820" stroke="#a9a898" stroke-width="1.5"/>
<path d="M3179,668 L3190,664 L3200,690 L3204,762 L3185,764 L3180,720 Z" fill="#56647a" opacity="0.9"/>
<path d="M3193,657 L3207,657 L3212,760 L3196,762 Z" fill="#9a9a88"/>
<path d="M3197,665 L3199,750 M3204,665 L3207,750" stroke="#5a5a50" stroke-width="1.2"/>
<path d="M3178,716 L3186,708 L3192,716 Z" fill="#e8e8e8"/>
<rect x="3198" y="772" width="22" height="24" fill="#d0c898"/>
<rect x="3202" y="777" width="5" height="10" fill="#eeeeee"/><rect x="3211" y="777" width="5" height="10" fill="#eeeeee"/>
<path d="M3019,652 C3028,645 3038,638 3048,633 M3019,660 C3028,652 3038,645 3048,641" stroke="#d81e30" stroke-width="3" fill="none"/>
<path d="M3019,749 C3024,740 3028,730 3032,722 M3019,796 C3030,792 3042,790 3050,792 M3019,834 C3032,825 3044,815 3052,811" stroke="#e0304a" stroke-width="3" fill="none"/>
<path d="M3206,790 C3215,830 3245,870 3268,897 M3218,790 C3228,830 3252,862 3268,886" stroke="#e21e3c" stroke-width="3.6" fill="none"/>
<circle cx="3124.3" cy="886.2" r="0.9" fill="#333"/>
<circle cx="3243.9" cy="887.5" r="1.1" fill="#333"/>
<circle cx="3179.6" cy="902.3" r="0.8" fill="#333"/>
<circle cx="3111.5" cy="890.0" r="1.0" fill="#333"/>
<circle cx="3144.7" cy="904.1" r="1.4" fill="#333"/>
<circle cx="3225.8" cy="885.4" r="0.6" fill="#333"/>
<circle cx="3194.8" cy="902.9" r="1.1" fill="#333"/>
<circle cx="3171.6" cy="885.0" r="1.0" fill="#333"/>
<circle cx="3236.1" cy="901.5" r="1.5" fill="#333"/>
<circle cx="3244.7" cy="890.0" r="0.7" fill="#333"/>
<circle cx="3089.3" cy="895.4" r="1.3" fill="#333"/>
<circle cx="3238.9" cy="899.4" r="1.2" fill="#333"/>
<circle cx="3205.3" cy="894.1" r="1.2" fill="#333"/>
<circle cx="3067.5" cy="900.6" r="0.8" fill="#333"/>
<circle cx="3234.8" cy="897.9" r="0.9" fill="#333"/>
<circle cx="3084.3" cy="890.0" r="1.2" fill="#333"/>
<circle cx="3192.7" cy="887.2" r="0.7" fill="#333"/>
<circle cx="3159.6" cy="896.7" r="1.0" fill="#333"/>
<circle cx="3102.5" cy="897.0" r="0.6" fill="#333"/>
<circle cx="3117.3" cy="894.2" r="1.6" fill="#333"/>
<circle cx="3182.5" cy="902.7" r="1.1" fill="#333"/>
<circle cx="3104.6" cy="889.9" r="1.6" fill="#333"/>
<circle cx="3193.9" cy="891.1" r="0.6" fill="#333"/>
<circle cx="3154.7" cy="898.5" r="1.0" fill="#333"/>
<circle cx="3108.9" cy="898.3" r="1.5" fill="#333"/>
<circle cx="3103.1" cy="885.7" r="0.9" fill="#333"/>
<circle cx="3139.9" cy="898.7" r="0.8" fill="#333"/>
<circle cx="3211.4" cy="899.8" r="1.1" fill="#333"/>
<circle cx="3099.0" cy="904.4" r="0.9" fill="#333"/>
<circle cx="3215.8" cy="889.6" r="0.8" fill="#333"/>
<circle cx="3204.5" cy="890.9" r="1.6" fill="#333"/>
<circle cx="3154.2" cy="888.7" r="0.8" fill="#333"/>
<circle cx="3139.2" cy="898.3" r="1.5" fill="#333"/>
<circle cx="3087.8" cy="892.9" r="0.8" fill="#333"/>
<circle cx="3245.1" cy="887.8" r="0.7" fill="#333"/>
<circle cx="3071.4" cy="892.9" r="1.5" fill="#333"/>
<circle cx="3227.9" cy="899.7" r="1.6" fill="#333"/>
<circle cx="3237.0" cy="891.6" r="0.8" fill="#333"/>
<circle cx="3237.8" cy="899.9" r="0.6" fill="#333"/>
<circle cx="3186.2" cy="892.6" r="1.0" fill="#333"/>
</g></g>
<rect x="2077.2" y="33" width="1416.8" height="943.6" fill="none" stroke="#000" stroke-width="5"/>
<line x1="2077" y1="871.0" x2="2105.3" y2="871.0" stroke="#000" stroke-width="5"/>
<line x1="2077" y1="766.2" x2="2105.3" y2="766.2" stroke="#000" stroke-width="5"/>
<line x1="2077" y1="661.4" x2="2105.3" y2="661.4" stroke="#000" stroke-width="5"/>
<line x1="2077" y1="556.5" x2="2105.3" y2="556.5" stroke="#000" stroke-width="5"/>
<line x1="2077" y1="451.6" x2="2105.3" y2="451.6" stroke="#000" stroke-width="5"/>
<line x1="2077" y1="346.8" x2="2105.3" y2="346.8" stroke="#000" stroke-width="5"/>
<line x1="2077" y1="242.0" x2="2105.3" y2="242.0" stroke="#000" stroke-width="5"/>
<line x1="2077" y1="137.1" x2="2105.3" y2="137.1" stroke="#000" stroke-width="5"/>
<line x1="2254.3" y1="976.6" x2="2254.3" y2="953.5" stroke="#000" stroke-width="5"/>
<line x1="2431.4" y1="976.6" x2="2431.4" y2="953.5" stroke="#000" stroke-width="5"/>
<line x1="2608.5" y1="976.6" x2="2608.5" y2="953.5" stroke="#000" stroke-width="5"/>
<line x1="2785.6" y1="976.6" x2="2785.6" y2="953.5" stroke="#000" stroke-width="5"/>
<line x1="2962.7" y1="976.6" x2="2962.7" y2="953.5" stroke="#000" stroke-width="5"/>
<line x1="3139.8" y1="976.6" x2="3139.8" y2="953.5" stroke="#000" stroke-width="5"/>
<line x1="3316.9" y1="976.6" x2="3316.9" y2="953.5" stroke="#000" stroke-width="5"/>
<path d="M2077.2,970.0 L2079.7,971.1 L2082.2,970.7 L2084.7,970.3 L2087.2,969.8 L2089.7,969.3 L2092.2,968.7 L2094.7,968.1 L2097.2,967.4 L2099.7,966.8 L2102.2,966.0 L2104.7,965.3 L2107.2,964.5 L2109.7,963.6 L2112.2,962.8 L2114.7,961.8 L2117.2,960.9 L2119.7,959.9 L2122.2,958.9 L2124.7,957.8 L2127.2,956.7 L2129.7,955.6 L2132.2,954.4 L2134.7,953.3 L2137.2,952.0 L2139.7,950.8 L2142.2,949.5 L2144.7,948.2 L2147.2,946.8 L2149.7,945.4 L2152.2,944.0 L2154.7,942.6 L2157.2,941.1 L2159.7,939.6 L2162.2,938.0 L2164.7,936.5 L2167.2,934.9 L2169.7,933.3 L2172.2,931.6 L2174.7,930.0 L2177.2,928.3 L2179.7,926.6 L2182.2,924.8 L2184.7,923.0 L2187.2,921.3 L2189.7,919.4 L2192.2,917.6 L2194.7,915.7 L2197.2,913.9 L2199.7,912.0 L2202.2,910.0 L2204.7,908.1 L2207.2,906.1 L2209.7,904.1 L2212.2,902.1 L2214.7,900.1 L2217.2,898.0 L2219.7,896.0 L2222.2,893.9 L2224.7,891.8 L2227.2,889.7 L2229.7,887.6 L2232.2,885.4 L2234.7,883.3 L2237.2,881.1 L2239.7,878.9 L2242.2,876.7 L2244.7,874.5 L2247.2,872.2 L2249.7,870.0 L2252.2,867.7 L2254.7,865.5 L2257.2,863.2 L2259.7,860.9 L2262.2,858.6 L2264.7,856.3 L2267.2,854.0 L2269.7,851.6 L2272.2,849.3 L2274.7,846.9 L2277.2,844.6 L2279.7,842.2 L2282.2,839.8 L2284.7,837.4 L2287.2,835.1 L2289.7,832.6 L2292.2,830.2 L2294.7,827.8 L2297.2,825.4 L2299.7,823.0 L2302.2,820.5 L2304.7,818.1 L2307.2,815.6 L2309.7,813.1 L2312.2,810.7 L2314.7,808.2 L2317.2,805.7 L2319.7,803.2 L2322.2,800.7 L2324.7,798.2 L2327.2,795.7 L2329.7,793.2 L2332.2,790.7 L2334.7,788.2 L2337.2,785.6 L2339.7,783.1 L2342.2,780.6 L2344.7,778.0 L2347.2,775.5 L2349.7,772.9 L2352.2,770.4 L2354.7,767.8 L2357.2,765.2 L2359.7,762.7 L2362.2,760.1 L2364.7,757.5 L2367.2,755.0 L2369.7,752.4 L2372.2,749.8 L2374.7,747.2 L2377.2,744.7 L2379.7,742.1 L2382.2,739.5 L2384.7,736.9 L2387.2,734.3 L2389.7,731.7 L2392.2,729.1 L2394.7,726.5 L2397.2,723.9 L2399.7,721.3 L2402.2,718.8 L2404.7,716.2 L2407.2,713.6 L2409.7,711.0 L2412.2,708.4 L2414.7,705.8 L2417.2,703.2 L2419.7,700.6 L2422.2,698.0 L2424.7,695.4 L2427.2,692.8 L2429.7,690.3 L2432.2,687.7 L2434.7,685.1 L2437.2,682.5 L2439.7,679.9 L2442.2,677.4 L2444.7,674.8 L2447.2,672.2 L2449.7,669.7 L2452.2,667.1 L2454.7,664.6 L2457.2,662.0 L2459.7,659.5 L2462.2,656.9 L2464.7,654.4 L2467.2,651.8 L2469.7,649.3 L2472.2,646.8 L2474.7,644.3 L2477.2,641.7 L2479.7,639.2 L2482.2,636.7 L2484.7,634.2 L2487.2,631.7 L2489.7,629.2 L2492.2,626.8 L2494.7,624.3 L2497.2,621.8 L2499.7,619.4 L2502.2,616.9 L2504.7,614.5 L2507.2,612.0 L2509.7,609.6 L2512.2,607.2 L2514.7,604.7 L2517.2,602.3 L2519.7,599.9 L2522.2,597.5 L2524.7,595.2 L2527.2,592.8 L2529.7,590.4 L2532.2,588.1 L2534.7,585.7 L2537.2,583.4 L2539.7,581.1 L2542.2,578.7 L2544.7,576.4 L2547.2,574.1 L2549.7,571.8 L2550.7,570.3 L2557.7,566.8 L2561.2,579.7 L2563.5,598.3 L2563.5,620.5" fill="none" stroke="#302e40" stroke-width="6" stroke-linejoin="round" stroke-linecap="round"/>
<path d="M2077.2,970.5 L2079.7,970.5 L2082.2,970.7 L2084.7,970.9 L2087.2,971.0 L2089.7,971.0 L2092.2,971.0 L2094.7,971.0 L2097.2,970.9 L2099.7,970.8 L2102.2,970.6 L2104.7,970.4 L2107.2,970.1 L2109.7,969.8 L2112.2,969.4 L2114.7,969.0 L2117.2,968.5 L2119.7,968.0 L2122.2,967.4 L2124.7,966.8 L2127.2,966.2 L2129.7,965.5 L2132.2,964.8 L2134.7,964.0 L2137.2,963.2 L2139.7,962.3 L2142.2,961.4 L2144.7,960.5 L2147.2,959.5 L2149.7,958.5 L2152.2,957.4 L2154.7,956.3 L2157.2,955.2 L2159.7,954.0 L2162.2,952.8 L2164.7,951.5 L2167.2,950.2 L2169.7,948.9 L2172.2,947.5 L2174.7,946.1 L2177.2,944.7 L2179.7,943.2 L2182.2,941.7 L2184.7,940.1 L2187.2,938.6 L2189.7,936.9 L2192.2,935.3 L2194.7,933.6 L2197.2,931.9 L2199.7,930.1 L2202.2,928.4 L2204.7,926.6 L2207.2,924.7 L2209.7,922.8 L2212.2,920.9 L2214.7,919.0 L2217.2,917.0 L2219.7,915.0 L2222.2,913.0 L2224.7,910.9 L2227.2,908.9 L2229.7,906.7 L2232.2,904.6 L2234.7,902.4 L2237.2,900.2 L2239.7,898.0 L2242.2,895.8 L2244.7,893.5 L2247.2,891.2 L2249.7,888.9 L2252.2,886.5 L2254.7,884.2 L2257.2,881.8 L2259.7,879.4 L2262.2,876.9 L2264.7,874.5 L2267.2,872.0 L2269.7,869.5 L2272.2,866.9 L2274.7,864.4 L2277.2,861.8 L2279.7,859.2 L2282.2,856.6 L2284.7,854.0 L2287.2,851.3 L2289.7,848.7 L2292.2,846.0 L2294.7,843.3 L2297.2,840.6 L2299.7,837.8 L2302.2,835.1 L2304.7,832.3 L2307.2,829.5 L2309.7,826.7 L2312.2,823.9 L2314.7,821.1 L2317.2,818.2 L2319.7,815.4 L2322.2,812.5 L2324.7,809.6 L2327.2,806.8 L2329.7,803.9 L2332.2,801.0 L2334.7,798.1 L2337.2,795.2 L2339.7,792.3 L2342.2,789.3 L2344.7,786.4 L2347.2,783.5 L2349.7,780.6 L2352.2,777.7 L2354.7,774.8 L2357.2,771.9 L2359.7,769.0 L2362.2,766.1 L2364.7,763.2 L2367.2,760.3 L2369.7,757.4 L2372.2,754.6 L2374.7,751.7 L2377.2,748.9 L2379.7,746.0 L2382.2,743.2 L2384.7,740.4 L2387.2,737.6 L2389.7,734.8 L2392.2,732.1 L2394.7,729.3 L2397.2,726.6 L2399.7,723.9 L2402.2,721.2 L2404.7,718.6 L2407.2,715.9 L2409.7,713.3 L2412.2,710.7 L2414.7,708.1 L2417.2,705.5 L2419.7,702.9 L2422.2,700.4 L2424.7,697.8 L2427.2,695.3 L2429.7,692.7 L2432.2,690.2 L2434.7,687.7 L2437.2,685.1 L2439.7,682.6 L2442.2,680.0 L2444.7,677.5 L2447.2,674.9 L2449.7,672.4 L2452.2,669.8 L2454.7,667.2 L2457.2,664.6 L2459.7,662.0 L2462.2,659.4 L2464.7,656.8 L2467.2,654.1 L2469.7,651.5 L2472.2,648.8 L2474.7,646.1 L2477.2,643.4 L2479.7,640.6 L2482.2,637.9 L2484.7,635.1 L2487.2,632.4 L2489.7,629.6 L2492.2,626.8 L2494.7,624.0 L2497.2,621.2 L2499.7,618.4 L2502.2,615.6 L2504.7,612.8 L2507.2,609.9 L2509.7,607.1 L2512.2,604.3 L2514.7,601.5 L2517.2,598.6 L2519.7,595.8 L2522.2,593.0 L2524.7,590.2 L2527.2,587.4 L2529.7,584.6 L2532.2,581.8 L2534.7,579.0 L2537.2,576.2 L2539.7,573.4 L2542.2,570.6 L2544.7,567.9 L2547.2,565.2 L2549.7,562.4 L2552.2,559.7 L2554.7,557.0 L2557.2,554.4 L2559.7,551.7 L2562.2,549.1 L2564.7,546.5 L2567.2,543.9 L2569.7,541.3 L2571.7,540.0 L2576.6,534.7 L2581.0,542.3 L2583.4,556.3 L2588.0,561.0 L2589.2,593.7 L2590.4,614.7" fill="none" stroke="#ff2050" stroke-width="6" stroke-linejoin="round" stroke-linecap="round"/>
<path d="M2077.2,971.0 L2079.7,970.7 L2082.2,970.7 L2084.7,970.7 L2087.2,970.6 L2089.7,970.6 L2092.2,970.6 L2094.7,970.5 L2097.2,970.5 L2099.7,970.4 L2102.2,970.3 L2104.7,970.2 L2107.2,970.1 L2109.7,970.0 L2112.2,969.9 L2114.7,969.8 L2117.2,969.6 L2119.7,969.4 L2122.2,969.2 L2124.7,969.0 L2127.2,968.8 L2129.7,968.5 L2132.2,968.2 L2134.7,967.9 L2137.2,967.6 L2139.7,967.2 L2142.2,966.8 L2144.7,966.4 L2147.2,965.9 L2149.7,965.4 L2152.2,964.9 L2154.7,964.3 L2157.2,963.7 L2159.7,963.1 L2162.2,962.4 L2164.7,961.6 L2167.2,960.9 L2169.7,960.1 L2172.2,959.2 L2174.7,958.3 L2177.2,957.4 L2179.7,956.4 L2182.2,955.3 L2184.7,954.2 L2187.2,953.1 L2189.7,951.9 L2192.2,950.6 L2194.7,949.3 L2197.2,947.9 L2199.7,946.5 L2202.2,945.0 L2204.7,943.5 L2207.2,941.9 L2209.7,940.2 L2212.2,938.5 L2214.7,936.8 L2217.2,935.0 L2219.7,933.1 L2222.2,931.2 L2224.7,929.3 L2227.2,927.3 L2229.7,925.2 L2232.2,923.1 L2234.7,921.0 L2237.2,918.8 L2239.7,916.6 L2242.2,914.4 L2244.7,912.1 L2247.2,909.7 L2249.7,907.3 L2252.2,904.9 L2254.7,902.4 L2257.2,899.9 L2259.7,897.4 L2262.2,894.8 L2264.7,892.3 L2267.2,889.6 L2269.7,887.0 L2272.2,884.3 L2274.7,881.6 L2277.2,878.9 L2279.7,876.1 L2282.2,873.4 L2284.7,870.6 L2287.2,867.8 L2289.7,865.0 L2292.2,862.2 L2294.7,859.4 L2297.2,856.7 L2299.7,853.9 L2302.2,851.1 L2304.7,848.3 L2307.2,845.5 L2309.7,842.8 L2312.2,840.0 L2314.7,837.3 L2317.2,834.5 L2319.7,831.8 L2322.2,829.1 L2324.7,826.4 L2327.2,823.7 L2329.7,821.0 L2332.2,818.3 L2334.7,815.6 L2337.2,813.0 L2339.7,810.3 L2342.2,807.7 L2344.7,805.0 L2347.2,802.4 L2349.7,799.7 L2352.2,797.1 L2354.7,794.5 L2357.2,791.8 L2359.7,789.2 L2362.2,786.6 L2364.7,783.9 L2367.2,781.3 L2369.7,778.7 L2372.2,776.1 L2374.7,773.5 L2377.2,770.9 L2379.7,768.2 L2382.2,765.6 L2384.7,763.0 L2387.2,760.4 L2389.7,757.8 L2392.2,755.1 L2394.7,752.5 L2397.2,749.9 L2399.7,747.2 L2402.2,744.6 L2404.7,742.0 L2407.2,739.3 L2409.7,736.7 L2412.2,734.0 L2414.7,731.3 L2417.2,728.7 L2419.7,726.0 L2422.2,723.3 L2424.7,720.6 L2427.2,717.9 L2429.7,715.2 L2432.2,712.5 L2434.7,709.8 L2437.2,707.0 L2439.7,704.3 L2442.2,701.5 L2444.7,698.8 L2447.2,696.0 L2449.7,693.2 L2452.2,690.4 L2454.7,687.6 L2457.2,684.7 L2459.7,681.9 L2462.2,679.0 L2464.7,676.2 L2467.2,673.3 L2469.7,670.4 L2472.2,667.5 L2474.7,664.6 L2477.2,661.6 L2479.7,658.7 L2482.2,655.7 L2484.7,652.7 L2487.2,649.7 L2489.7,646.6 L2492.2,643.6 L2494.7,640.5 L2497.2,637.4 L2499.7,634.3 L2502.2,631.2 L2504.7,628.0 L2507.2,624.9 L2509.7,621.7 L2512.2,618.5 L2514.7,615.2 L2517.2,612.0 L2519.7,608.7 L2522.2,605.4 L2524.7,602.1 L2527.2,598.7 L2529.7,595.3 L2532.2,591.9 L2534.7,588.5 L2537.2,585.1 L2539.7,581.6 L2542.2,578.1 L2544.7,574.6 L2547.2,571.0 L2549.7,567.4 L2552.2,563.8 L2554.2,559.8 L2554.9,586.7 L2554.9,622.8" fill="none" stroke="#2468f0" stroke-width="6" stroke-linejoin="round" stroke-linecap="round"/>
<path d="M2076.3,977.0 L2078.8,976.4 L2081.3,976.3 L2083.8,976.1 L2086.3,976.0 L2088.8,975.8 L2091.3,975.7 L2093.8,975.5 L2096.3,975.4 L2098.8,975.2 L2101.3,975.0 L2103.8,974.8 L2106.3,974.6 L2108.8,974.4 L2111.3,974.2 L2113.8,974.0 L2116.3,973.8 L2118.8,973.5 L2121.3,973.3 L2123.8,973.0 L2126.3,972.8 L2128.8,972.5 L2131.3,972.3 L2133.8,972.0 L2136.3,971.7 L2138.8,971.4 L2141.3,971.2 L2143.8,970.9 L2146.3,970.6 L2148.8,970.3 L2151.3,969.9 L2153.8,969.6 L2156.3,969.3 L2158.8,968.9 L2161.3,968.6 L2163.8,968.2 L2166.3,967.9 L2168.8,967.5 L2171.3,967.2 L2173.8,966.8 L2176.3,966.4 L2178.8,966.0 L2181.3,965.6 L2183.8,965.2 L2186.3,964.8 L2188.8,964.3 L2191.3,963.9 L2193.8,963.5 L2196.3,963.0 L2198.8,962.6 L2201.3,962.1 L2203.8,961.6 L2206.3,961.2 L2208.8,960.7 L2211.3,960.2 L2213.8,959.7 L2216.3,959.2 L2218.8,958.7 L2221.3,958.2 L2223.8,957.6 L2226.3,957.1 L2228.8,956.6 L2231.3,956.0 L2233.8,955.4 L2236.3,954.9 L2238.8,954.3 L2241.3,953.7 L2243.8,953.1 L2246.3,952.5 L2248.8,951.9 L2251.3,951.3 L2253.8,950.7 L2256.3,950.1 L2258.8,949.4 L2261.3,948.8 L2263.8,948.1 L2266.3,947.5 L2268.8,946.8 L2271.3,946.1 L2273.8,945.4 L2276.3,944.7 L2278.8,944.0 L2281.3,943.3 L2283.8,942.6 L2286.3,941.9 L2288.8,941.1 L2291.3,940.4 L2293.8,939.6 L2296.3,938.9 L2298.8,938.1 L2301.3,937.3 L2303.8,936.5 L2306.3,935.7 L2308.8,934.9 L2311.3,934.1 L2313.8,933.3 L2316.3,932.5 L2318.8,931.6 L2321.3,930.8 L2323.8,929.9 L2326.3,929.1 L2328.8,928.2 L2331.3,927.3 L2333.8,926.4 L2336.3,925.5 L2338.8,924.6 L2341.3,923.7 L2343.8,922.7 L2346.3,921.8 L2348.8,920.9 L2351.3,919.9 L2353.8,918.9 L2356.3,918.0 L2358.8,917.0 L2361.3,916.0 L2363.8,915.0 L2366.3,914.0 L2368.8,913.0 L2371.3,911.9 L2373.8,910.9 L2376.3,909.9 L2378.8,908.8 L2381.3,907.7 L2383.8,906.7 L2386.3,905.6 L2388.8,904.5 L2391.3,903.4 L2393.8,902.3 L2396.3,901.2 L2398.8,900.0 L2401.3,898.9 L2403.8,897.7 L2406.3,896.6 L2408.8,895.4 L2411.3,894.2 L2413.8,893.0 L2416.3,891.8 L2418.8,890.6 L2421.3,889.4 L2423.8,888.2 L2426.3,886.9 L2428.8,885.7 L2431.3,884.4 L2433.8,883.2 L2436.3,881.9 L2438.8,880.6 L2441.3,879.3 L2443.8,878.0 L2446.3,876.7 L2448.8,875.4 L2451.3,874.1 L2453.8,872.7 L2456.3,871.4 L2458.8,870.0 L2461.3,868.6 L2463.8,867.3 L2466.3,865.9 L2468.8,864.5 L2471.3,863.1 L2473.8,861.7 L2476.3,860.2 L2478.8,858.8 L2481.3,857.4 L2483.8,855.9 L2486.3,854.4 L2488.8,853.0 L2491.3,851.5 L2493.8,850.0 L2496.3,848.5 L2498.8,847.0 L2501.3,845.5 L2503.8,844.0 L2506.3,842.4 L2508.8,840.9 L2511.3,839.3 L2513.8,837.7 L2516.3,836.2 L2518.8,834.6 L2521.3,833.0 L2523.8,831.4 L2526.3,829.8 L2528.8,828.2 L2531.3,826.5 L2533.8,824.9 L2536.3,823.3 L2538.8,821.6 L2541.3,819.9 L2543.8,818.3 L2546.3,816.6 L2548.8,814.9 L2551.3,813.2 L2553.8,811.5 L2556.3,809.8 L2558.8,808.0 L2561.3,806.3 L2563.8,804.5 L2566.3,802.8 L2568.8,801.0 L2571.3,799.2 L2573.8,797.5 L2576.3,795.7 L2578.8,793.9 L2581.3,792.1 L2583.8,790.2 L2586.3,788.4 L2588.8,786.6 L2591.3,784.7 L2593.8,782.9 L2596.3,781.0 L2598.8,779.1 L2601.3,777.2 L2603.8,775.4 L2606.3,773.5 L2608.8,771.5 L2611.3,769.6 L2613.8,767.7 L2616.3,765.8 L2618.8,763.8 L2621.3,761.9 L2623.8,759.9 L2626.3,757.9 L2628.8,755.9 L2631.3,754.0 L2633.8,752.0 L2636.3,749.9 L2638.8,747.9 L2641.3,745.9 L2643.8,743.9 L2646.3,741.8 L2648.8,739.8 L2651.3,737.7 L2653.8,735.6 L2654.5,735.7 L2654.5,735.7 L2657.0,732.4 L2659.5,729.8 L2662.0,727.2 L2664.5,724.6 L2667.0,722.0 L2669.5,719.4 L2672.0,716.8 L2674.5,714.2 L2677.0,711.7 L2679.5,709.1 L2682.0,706.6 L2684.5,704.0 L2687.0,701.5 L2689.5,699.0 L2692.0,696.5 L2694.5,694.0 L2697.0,691.4 L2699.5,688.9 L2702.0,686.4 L2704.5,684.0 L2707.0,681.5 L2709.5,679.0 L2712.0,676.5 L2714.5,674.0 L2717.0,671.5 L2719.5,669.1 L2722.0,666.6 L2724.5,664.1 L2727.0,661.7 L2729.5,659.2 L2732.0,656.7 L2734.5,654.3 L2737.0,651.8 L2739.5,649.4 L2742.0,646.9 L2744.5,644.4 L2747.0,642.0 L2749.5,639.5 L2752.0,637.0 L2754.5,634.5 L2757.0,632.1 L2759.5,629.6 L2762.0,627.1 L2764.5,624.6 L2767.0,622.2 L2769.5,619.7 L2772.0,617.2 L2774.5,614.7 L2777.0,612.2 L2779.5,609.7 L2782.0,607.2 L2784.5,604.7 L2787.0,602.2 L2789.5,599.7 L2792.0,597.2 L2794.5,594.7 L2797.0,592.2 L2799.5,589.7 L2802.0,587.2 L2804.5,584.7 L2807.0,582.1 L2809.5,579.6 L2812.0,577.1 L2814.5,574.6 L2817.0,572.1 L2819.5,569.5 L2822.0,567.0 L2824.5,564.5 L2827.0,561.9 L2829.5,559.4 L2832.0,556.9 L2834.5,554.3 L2837.0,551.8 L2839.5,549.2 L2842.0,546.7 L2844.5,544.1 L2847.0,541.6 L2849.5,539.0 L2852.0,536.5 L2854.5,533.9 L2857.0,531.3 L2859.5,528.8 L2862.0,526.2 L2864.5,523.6 L2867.0,521.1 L2869.5,518.5 L2872.0,515.9 L2874.5,513.3 L2877.0,510.8 L2879.5,508.2 L2882.0,505.6 L2884.5,503.0 L2887.0,500.5 L2889.5,497.9 L2892.0,495.3 L2894.5,492.7 L2897.0,490.1 L2899.5,487.5 L2902.0,485.0 L2904.5,482.4 L2907.0,479.8 L2909.5,477.2 L2912.0,474.6 L2914.5,472.0 L2917.0,469.5 L2919.5,466.9 L2922.0,464.3 L2924.5,461.7 L2927.0,459.1 L2929.5,456.5 L2932.0,453.9 L2934.5,451.4 L2937.0,448.8 L2939.5,446.2 L2942.0,443.6 L2944.5,441.0 L2947.0,438.4 L2949.5,435.9 L2952.0,433.3 L2954.5,430.7 L2957.0,428.1 L2959.5,425.5 L2962.0,423.0 L2964.5,420.4 L2967.0,417.8 L2969.5,415.3 L2972.0,412.7 L2974.5,410.1 L2977.0,407.5 L2979.5,405.0 L2982.0,402.4 L2984.5,399.9 L2987.0,397.3 L2989.5,394.7 L2992.0,392.2 L2994.5,389.6 L2997.0,387.1 L2999.5,384.5 L3002.0,382.0 L3004.5,379.5 L3007.0,376.9 L3009.5,374.4 L3012.0,371.9 L3014.5,369.3 L3017.0,366.8 L3019.5,364.3 L3022.0,361.7 L3024.5,359.2 L3027.0,356.7 L3029.5,354.2 L3032.0,351.7 L3034.5,349.2 L3037.0,346.7 L3039.5,344.2 L3042.0,341.7 L3044.5,339.2 L3047.0,336.7 L3049.5,334.2 L3052.0,331.8 L3054.5,329.3 L3057.0,326.8 L3059.5,324.3 L3062.0,321.9 L3064.5,319.4 L3067.0,317.0 L3069.5,314.5 L3072.0,312.1 L3074.5,309.6 L3077.0,307.2 L3079.5,304.8 L3082.0,302.4 L3084.5,299.9 L3087.0,297.5 L3089.5,295.1 L3092.0,292.7 L3094.5,290.3 L3097.0,287.9 L3099.5,285.5 L3102.0,283.2 L3104.5,280.8 L3107.0,278.4 L3109.5,276.0 L3112.0,273.7 L3114.5,271.3 L3114.7,271.3 L3118.6,273.9 L3148.1,246.9 L3153.3,246.9 L3190.0,207.1 L3226.7,175.0 L3268.7,137.7 L3319.6,101.7 L3324.5,109.0 L3327.0,143.3 L3331.9,148.2 L3427.5,93.3 L3429.9,109.0 L3433.3,118.8 L3438.7,125.2 L3438.2,354.1" fill="none" stroke="#4cd838" stroke-width="6" stroke-linejoin="round" stroke-linecap="round"/>
<path d="M2076.3,976.8 L2078.8,976.7 L2081.3,976.4 L2083.8,976.2 L2086.3,976.0 L2088.8,975.7 L2091.3,975.5 L2093.8,975.2 L2096.3,975.0 L2098.8,974.7 L2101.3,974.4 L2103.8,974.1 L2106.3,973.8 L2108.8,973.6 L2111.3,973.3 L2113.8,973.0 L2116.3,972.7 L2118.8,972.3 L2121.3,972.0 L2123.8,971.7 L2126.3,971.4 L2128.8,971.0 L2131.3,970.7 L2133.8,970.4 L2136.3,970.0 L2138.8,969.7 L2141.3,969.3 L2143.8,968.9 L2146.3,968.6 L2148.8,968.2 L2151.3,967.8 L2153.8,967.4 L2156.3,967.1 L2158.8,966.7 L2161.3,966.3 L2163.8,965.9 L2166.3,965.5 L2168.8,965.1 L2171.3,964.6 L2173.8,964.2 L2176.3,963.8 L2178.8,963.4 L2181.3,963.0 L2183.8,962.5 L2186.3,962.1 L2188.8,961.6 L2191.3,961.2 L2193.8,960.7 L2196.3,960.3 L2198.8,959.8 L2201.3,959.4 L2203.8,958.9 L2206.3,958.5 L2208.8,958.0 L2211.3,957.5 L2213.8,957.0 L2216.3,956.5 L2218.8,956.1 L2221.3,955.6 L2223.8,955.1 L2226.3,954.6 L2228.8,954.1 L2231.3,953.5 L2233.8,953.0 L2236.3,952.5 L2238.8,951.9 L2241.3,951.4 L2243.8,950.8 L2246.3,950.2 L2248.8,949.6 L2251.3,949.0 L2253.8,948.4 L2256.3,947.8 L2258.8,947.1 L2261.3,946.4 L2263.8,945.8 L2266.3,945.0 L2268.8,944.3 L2271.3,943.6 L2273.8,942.8 L2276.3,942.1 L2278.8,941.3 L2281.3,940.4 L2283.8,939.6 L2286.3,938.7 L2288.8,937.8 L2291.3,936.9 L2293.8,936.0 L2296.3,935.0 L2298.8,934.0 L2301.3,933.0 L2303.8,932.0 L2306.3,930.9 L2308.8,929.8 L2311.3,928.7 L2313.8,927.5 L2316.3,926.4 L2318.8,925.2 L2321.3,924.0 L2323.8,922.8 L2326.3,921.5 L2328.8,920.3 L2331.3,919.0 L2333.8,917.7 L2336.3,916.4 L2338.8,915.1 L2341.3,913.7 L2343.8,912.4 L2346.3,911.1 L2348.8,909.7 L2351.3,908.3 L2353.8,906.9 L2356.3,905.5 L2358.8,904.2 L2361.3,902.7 L2363.8,901.3 L2366.3,899.9 L2368.8,898.5 L2371.3,897.0 L2373.8,895.6 L2376.3,894.1 L2378.8,892.6 L2381.3,891.1 L2383.8,889.7 L2386.3,888.1 L2388.8,886.6 L2391.3,885.1 L2393.8,883.6 L2396.3,882.0 L2398.8,880.4 L2401.3,878.9 L2403.8,877.3 L2406.3,875.7 L2408.8,874.1 L2411.3,872.5 L2413.8,870.8 L2416.3,869.2 L2418.8,867.5 L2421.3,865.8 L2423.8,864.1 L2426.3,862.4 L2428.8,860.7 L2431.3,859.0 L2433.8,857.3 L2436.3,855.5 L2438.8,853.7 L2441.3,851.9 L2443.8,850.1 L2446.3,848.3 L2448.8,846.5 L2451.3,844.6 L2453.8,842.8 L2456.3,840.9 L2458.8,839.0 L2461.3,837.1 L2463.8,835.2 L2466.3,833.2 L2468.8,831.3 L2471.3,829.3 L2473.8,827.3 L2476.3,825.3 L2478.8,823.2 L2481.3,821.2 L2483.8,819.1 L2486.3,817.0 L2488.8,814.9 L2491.3,812.7 L2493.8,810.5 L2496.3,808.3 L2498.8,806.1 L2501.3,803.9 L2503.8,801.6 L2506.3,799.3 L2508.8,797.0 L2511.3,794.7 L2513.8,792.3 L2516.3,789.9 L2518.8,787.4 L2521.3,785.0 L2523.8,782.5 L2526.3,780.0 L2528.8,777.4 L2531.3,774.8 L2533.8,772.2 L2536.3,769.5 L2538.8,766.9 L2541.3,764.1 L2543.8,761.4 L2546.3,758.6 L2548.8,755.9 L2551.3,753.0 L2553.8,750.2 L2556.3,747.3 L2558.8,744.5 L2561.3,741.6 L2563.8,738.7 L2566.3,735.7 L2568.8,732.8 L2571.3,729.8 L2573.8,726.8 L2576.3,723.8 L2578.8,720.8 L2581.3,717.8 L2583.8,714.8 L2586.3,711.8 L2588.8,708.8 L2591.3,705.7 L2593.8,702.7 L2596.3,699.6 L2598.8,696.6 L2601.3,693.6 L2603.8,690.5 L2606.3,687.5 L2608.8,684.4 L2611.3,681.4 L2613.8,678.4 L2616.3,675.3 L2618.8,672.3 L2621.3,669.3 L2623.8,666.3 L2626.3,663.3 L2628.8,660.3 L2631.3,657.3 L2633.8,654.3 L2636.3,651.4 L2638.8,648.4 L2641.3,645.5 L2643.8,642.6 L2646.3,639.6 L2648.8,636.7 L2651.3,633.8 L2653.8,630.9 L2656.3,628.1 L2658.8,625.2 L2661.3,622.3 L2663.8,619.4 L2666.3,616.5 L2668.8,613.7 L2671.3,610.8 L2673.8,607.9 L2676.3,605.0 L2678.8,602.2 L2681.3,599.3 L2683.8,596.4 L2686.3,593.5 L2688.8,590.6 L2691.3,587.6 L2693.8,584.7 L2696.3,581.8 L2698.8,578.9 L2701.3,575.9 L2703.8,573.0 L2706.3,570.0 L2708.8,567.1 L2711.3,564.1 L2713.8,561.1 L2716.3,558.1 L2718.8,555.1 L2721.3,552.1 L2723.8,549.1 L2726.3,546.1 L2728.8,543.1 L2731.3,540.1 L2733.8,537.1 L2736.3,534.0 L2738.8,531.0 L2741.3,527.9 L2743.8,524.9 L2746.3,521.8 L2748.8,518.7 L2751.3,515.7 L2753.8,512.6 L2756.3,509.5 L2758.8,506.4 L2761.3,503.3 L2763.8,500.2 L2766.3,497.1 L2768.8,493.9 L2771.3,490.8 L2773.8,487.7 L2776.3,484.6 L2778.8,481.4 L2781.3,478.3 L2783.8,475.2 L2786.3,472.0 L2788.8,468.9 L2791.3,465.7 L2793.8,462.6 L2796.3,459.5 L2798.8,456.3 L2801.3,453.2 L2803.8,450.1 L2806.3,447.0 L2808.8,443.8 L2811.3,440.7 L2813.8,437.6 L2816.3,434.5 L2818.8,431.4 L2821.3,428.3 L2823.8,425.2 L2826.3,422.1 L2828.8,419.0 L2831.3,416.0 L2833.8,412.9 L2836.3,409.8 L2838.8,406.8 L2841.3,403.8 L2843.8,400.7 L2846.3,397.7 L2848.8,394.7 L2851.3,391.7 L2853.8,388.7 L2856.3,385.8 L2858.8,382.8 L2861.3,379.9 L2863.8,376.9 L2866.3,374.0 L2868.8,371.1 L2871.3,368.3 L2873.8,365.4 L2876.3,362.5 L2878.8,359.7 L2881.3,356.9 L2883.8,354.1 L2886.3,351.3 L2888.8,348.5 L2891.3,345.8 L2893.8,343.0 L2896.3,340.3 L2898.8,337.5 L2901.3,334.8 L2903.8,332.1 L2906.3,329.4 L2908.8,326.7 L2911.3,323.9 L2913.8,321.2 L2916.3,318.5 L2918.8,315.8 L2921.3,313.1 L2923.8,310.4 L2926.3,307.6 L2928.8,304.9 L2931.3,302.2 L2933.8,299.4 L2936.3,296.6 L2938.8,293.8 L2941.3,291.0 L2943.8,288.2 L2946.3,285.4 L2948.8,282.5 L2951.3,279.7 L2953.8,276.8 L2956.3,273.8 L2958.8,270.9 L2961.3,267.9 L2962.0,266.8 L2971.1,260.7 L2976.5,266.8 L2976.5,266.8 L2979.0,265.9 L2981.5,264.4 L2984.0,262.8 L2986.5,261.0 L2989.0,259.2 L2991.5,257.3 L2994.0,255.2 L2996.5,253.1 L2999.0,250.9 L3001.5,248.7 L3004.0,246.3 L3006.5,244.0 L3009.0,241.5 L3011.5,239.0 L3014.0,236.5 L3016.5,234.0 L3019.0,231.4 L3021.5,228.8 L3024.0,226.2 L3026.5,223.6 L3029.0,221.0 L3031.5,218.5 L3034.0,215.9 L3036.5,213.4 L3039.0,210.9 L3041.5,208.4 L3044.0,205.9 L3046.5,203.4 L3049.0,201.0 L3051.5,198.6 L3054.0,196.2 L3056.5,193.9 L3059.0,191.5 L3061.5,189.2 L3064.0,186.9 L3066.5,184.7 L3069.0,182.5 L3071.5,180.3 L3074.0,178.1 L3076.5,176.0 L3079.0,173.9 L3081.5,171.8 L3084.0,169.8 L3086.5,167.8 L3089.0,165.8 L3091.5,163.8 L3094.0,161.9 L3096.5,159.9 L3099.0,158.0 L3101.5,156.1 L3104.0,154.2 L3106.5,152.3 L3109.0,150.5 L3111.5,148.6 L3114.0,146.7 L3116.5,144.9 L3119.0,143.0 L3121.5,141.2 L3124.0,139.3 L3126.5,137.5 L3129.0,135.6 L3131.5,133.8 L3134.0,131.9 L3136.5,130.0 L3139.0,128.1 L3141.5,126.2 L3144.0,124.3 L3146.5,122.4 L3148.1,121.1 L3153.3,121.6 L3166.1,121.1 L3172.5,125.7 L3180.0,122.5 L3198.7,109.7 L3216.2,98.5 L3219.7,100.8 L3231.3,98.0 L3234.8,99.9 L3250.0,93.3 L3265.2,92.2 L3264.5,116.7 L3267.5,135.3 L3273.3,151.7 L3278.0,168.0 L3285.0,173.8 L3294.3,176.2 L3295.5,210.0 L3297.8,270.0 L3297.5,422.7" fill="none" stroke="#9775f0" stroke-width="6" stroke-linejoin="round" stroke-linecap="round"/>
<path d="M2076.3,970.5 L2078.8,970.2 L2081.3,969.8 L2083.8,969.4 L2086.3,968.9 L2088.8,968.6 L2091.3,968.2 L2093.8,967.8 L2096.3,967.5 L2098.8,967.2 L2101.3,966.9 L2103.8,966.6 L2106.3,966.3 L2108.8,966.0 L2111.3,965.7 L2113.8,965.5 L2116.3,965.2 L2118.8,965.0 L2121.3,964.8 L2123.8,964.5 L2126.3,964.3 L2128.8,964.1 L2131.3,963.8 L2133.8,963.6 L2136.3,963.4 L2138.8,963.2 L2141.3,963.0 L2143.8,962.7 L2146.3,962.5 L2148.8,962.3 L2151.3,962.0 L2153.8,961.8 L2156.3,961.6 L2158.8,961.3 L2161.3,961.0 L2163.8,960.8 L2166.3,960.5 L2168.8,960.2 L2171.3,959.9 L2173.8,959.6 L2176.3,959.2 L2178.8,958.9 L2181.3,958.5 L2183.8,958.2 L2186.3,957.8 L2188.8,957.4 L2191.3,957.0 L2193.8,956.5 L2196.3,956.0 L2198.8,955.6 L2201.3,955.0 L2203.8,954.5 L2206.3,954.0 L2208.8,953.4 L2211.3,952.8 L2213.8,952.1 L2216.3,951.5 L2218.8,950.8 L2221.3,950.1 L2223.8,949.3 L2226.3,948.6 L2228.8,947.8 L2231.3,947.0 L2233.8,946.1 L2236.3,945.3 L2238.8,944.4 L2241.3,943.5 L2243.8,942.5 L2246.3,941.6 L2248.8,940.6 L2251.3,939.6 L2253.8,938.6 L2256.3,937.5 L2258.8,936.4 L2261.3,935.3 L2263.8,934.2 L2266.3,933.0 L2268.8,931.9 L2271.3,930.7 L2273.8,929.5 L2276.3,928.2 L2278.8,927.0 L2281.3,925.7 L2283.8,924.4 L2286.3,923.0 L2288.8,921.7 L2291.3,920.3 L2293.8,918.9 L2296.3,917.5 L2298.8,916.1 L2301.3,914.6 L2303.8,913.2 L2306.3,911.7 L2308.8,910.1 L2311.3,908.6 L2313.8,907.1 L2316.3,905.5 L2318.8,903.9 L2321.3,902.3 L2323.8,900.7 L2326.3,899.0 L2328.8,897.3 L2331.3,895.7 L2333.8,893.9 L2336.3,892.2 L2338.8,890.5 L2341.3,888.7 L2343.8,887.0 L2346.3,885.2 L2348.8,883.3 L2351.3,881.5 L2353.8,879.7 L2356.3,877.8 L2358.8,875.9 L2361.3,874.0 L2363.8,872.1 L2366.3,870.2 L2368.8,868.3 L2371.3,866.3 L2373.8,864.3 L2376.3,862.4 L2378.8,860.4 L2381.3,858.3 L2383.8,856.3 L2386.3,854.3 L2388.8,852.2 L2391.3,850.1 L2393.8,848.1 L2396.3,846.0 L2398.8,843.9 L2401.3,841.8 L2403.8,839.6 L2406.3,837.5 L2408.8,835.3 L2411.3,833.2 L2413.8,831.0 L2416.3,828.8 L2418.8,826.6 L2421.3,824.4 L2423.8,822.2 L2426.3,820.0 L2428.8,817.8 L2431.3,815.5 L2433.8,813.3 L2436.3,811.0 L2438.8,808.8 L2441.3,806.5 L2443.8,804.2 L2446.3,801.9 L2448.8,799.6 L2451.3,797.3 L2453.8,795.0 L2456.3,792.7 L2458.8,790.4 L2461.3,788.1 L2463.8,785.7 L2466.3,783.4 L2468.8,781.0 L2471.3,778.7 L2473.8,776.3 L2476.3,774.0 L2478.8,771.6 L2481.3,769.2 L2483.8,766.9 L2486.3,764.5 L2488.8,762.1 L2491.3,759.7 L2493.8,757.3 L2496.3,754.8 L2498.8,752.4 L2501.3,750.0 L2503.8,747.5 L2506.3,745.1 L2508.8,742.6 L2511.3,740.1 L2513.8,737.7 L2516.3,735.2 L2518.8,732.7 L2521.3,730.2 L2523.8,727.7 L2526.3,725.1 L2528.8,722.6 L2531.3,720.0 L2533.8,717.5 L2536.3,714.9 L2538.8,712.3 L2541.3,709.8 L2543.8,707.2 L2546.3,704.5 L2548.8,701.9 L2551.3,699.3 L2553.8,696.6 L2556.3,694.0 L2558.8,691.3 L2561.3,688.6 L2563.8,685.9 L2566.3,683.2 L2568.8,680.5 L2571.3,677.8 L2573.8,675.0 L2576.3,672.3 L2578.8,669.5 L2581.3,666.7 L2583.8,663.9 L2586.3,661.2 L2588.8,658.4 L2591.3,655.6 L2593.8,652.8 L2596.3,650.0 L2598.8,647.2 L2601.3,644.4 L2603.8,641.6 L2606.3,638.8 L2608.8,636.0 L2611.3,633.2 L2613.8,630.3 L2616.3,627.5 L2618.8,624.7 L2621.3,621.9 L2623.8,619.1 L2626.3,616.2 L2628.8,613.4 L2631.3,610.5 L2633.8,607.7 L2636.3,604.8 L2638.8,602.0 L2641.3,599.1 L2643.8,596.2 L2646.3,593.3 L2648.8,590.4 L2651.3,587.5 L2653.8,584.5 L2656.3,581.6 L2658.8,578.7 L2661.3,575.7 L2663.8,572.8 L2666.3,569.8 L2668.8,566.9 L2671.3,563.9 L2673.8,560.9 L2676.3,558.0 L2678.8,555.0 L2681.3,552.0 L2683.8,549.1 L2686.3,546.1 L2688.8,543.1 L2691.3,540.1 L2693.8,537.2 L2696.3,534.2 L2698.8,531.2 L2701.3,528.2 L2703.8,525.3 L2706.3,522.3 L2708.8,519.3 L2711.3,516.4 L2713.8,513.4 L2716.3,510.5 L2718.8,507.5 L2721.3,504.6 L2723.8,501.7 L2726.3,498.7 L2728.8,495.8 L2731.3,492.9 L2733.8,490.0 L2736.3,487.1 L2738.8,484.2 L2741.3,481.3 L2743.8,478.5 L2746.3,475.6 L2748.8,472.8 L2751.3,470.0 L2753.8,467.1 L2756.3,464.3 L2758.8,461.5 L2761.3,458.8 L2763.8,456.0 L2766.3,453.2 L2768.8,450.5 L2771.3,447.8 L2773.8,445.1 L2776.3,442.4 L2778.8,439.7 L2781.3,437.1 L2783.8,434.5 L2786.3,431.8 L2788.8,429.2 L2791.3,426.7 L2793.8,424.1 L2796.3,421.6 L2798.8,419.1 L2801.3,416.6 L2803.8,414.1 L2806.3,411.7 L2808.8,409.2 L2811.3,406.8 L2813.8,404.4 L2816.3,402.0 L2818.8,399.6 L2821.3,397.2 L2823.8,394.8 L2826.3,392.4 L2828.8,389.9 L2831.3,387.4 L2833.8,384.9 L2836.3,382.4 L2838.8,379.8 L2841.3,377.2 L2843.8,374.5 L2846.3,371.8 L2848.8,369.1 L2851.3,366.3 L2853.8,363.5 L2856.3,360.7 L2858.8,357.9 L2861.3,355.1 L2863.8,352.3 L2866.3,349.4 L2868.8,346.6 L2871.3,343.8 L2873.8,341.1 L2876.3,338.3 L2878.8,335.6 L2881.3,332.9 L2883.8,330.2 L2886.3,327.6 L2888.8,325.1 L2891.3,322.5 L2893.8,320.0 L2896.3,317.6 L2898.8,315.1 L2901.3,312.7 L2903.8,310.3 L2906.3,308.0 L2908.8,305.7 L2911.3,303.4 L2913.8,301.2 L2916.3,298.9 L2918.8,296.7 L2921.3,294.6 L2923.8,292.4 L2926.3,290.3 L2928.8,288.2 L2931.3,286.1 L2933.8,284.0 L2936.3,282.0 L2938.8,279.9 L2941.3,277.8 L2943.8,275.7 L2946.3,273.5 L2948.8,271.4 L2951.3,269.2 L2953.8,266.9 L2956.3,264.6 L2958.8,262.2 L2961.3,259.8 L2963.8,257.3 L2966.3,254.7 L2968.8,252.0 L2971.3,249.2 L2973.8,246.3 L2976.3,243.3 L2978.8,240.2 L2981.3,237.0 L2981.7,236.4 L2982.6,253.1 L2982.6,253.1 L2985.1,251.2 L2987.6,249.2 L2990.1,247.1 L2992.6,245.1 L2995.1,243.1 L2997.6,241.1 L3000.1,239.1 L3002.6,237.1 L3005.1,235.2 L3007.6,233.2 L3010.1,231.2 L3012.6,229.3 L3015.1,227.3 L3017.6,225.3 L3020.1,223.4 L3022.6,221.5 L3025.1,219.5 L3027.6,217.6 L3030.1,215.7 L3032.6,213.8 L3035.1,211.9 L3037.6,210.0 L3040.1,208.1 L3042.6,206.2 L3045.1,204.3 L3047.6,202.5 L3050.1,200.6 L3052.6,198.8 L3055.1,196.9 L3057.6,195.1 L3060.1,193.3 L3062.6,191.5 L3065.1,189.7 L3067.6,187.9 L3070.1,186.1 L3072.6,184.3 L3075.1,182.6 L3077.6,180.8 L3080.1,179.1 L3082.6,177.4 L3085.1,175.6 L3087.6,173.9 L3090.1,172.2 L3092.6,170.6 L3095.1,168.9 L3097.6,167.2 L3100.1,165.6 L3102.6,163.9 L3105.1,162.3 L3107.6,160.7 L3110.1,159.1 L3112.6,157.5 L3115.1,155.9 L3117.6,154.4 L3120.1,152.8 L3122.4,151.4 L3132.7,155.8 L3139.1,159.6 L3143.0,172.4 L3144.3,203.3 L3148.1,221.2 L3153.3,232.8 L3163.5,235.4 L3176.4,234.1 L3190.0,228.4 L3210.3,220.5 L3241.8,213.5 L3247.7,220.5 L3254.7,225.2 L3271.0,226.3 L3273.3,233.3 L3273.3,280.6 L3276.5,300.2 L3278.0,442.4" fill="none" stroke="#c9830e" stroke-width="6" stroke-linejoin="round" stroke-linecap="round"/>
<ellipse cx="2379.7" cy="757.1" rx="25.3" ry="53.5" fill="none" stroke="#0a36f0" stroke-width="4.9" stroke-dasharray="4.9 4.5"/>
<ellipse cx="2785.2" cy="511.9" rx="37.3" ry="116" fill="none" stroke="#0a36f0" stroke-width="4.9" stroke-dasharray="4.9 4.5"/>
<line x1="2372.4" y1="728.2" x2="2341.7" y2="617" stroke="#0a36f0" stroke-width="4.2"/>
<polygon points="2333.8,593.5 2330.5,618.7 2353,615.3" fill="#0a36f0"/>
<line x1="2798.6" y1="528.7" x2="2944" y2="621" stroke="#0a36f0" stroke-width="4.2"/>
<polygon points="2967.4,635.7 2936.8,629.6 2950.2,614.9" fill="#0a36f0"/>
<text x="2054" y="999.4" font-size="67" text-anchor="end">0</text>
<text x="2054" y="894.5" font-size="67" text-anchor="end">5</text>
<text x="2054" y="789.7" font-size="67" text-anchor="end">10</text>
<text x="2054" y="684.9" font-size="67" text-anchor="end">15</text>
<text x="2054" y="580.0" font-size="67" text-anchor="end">20</text>
<text x="2054" y="475.1" font-size="67" text-anchor="end">25</text>
<text x="2054" y="370.3" font-size="67" text-anchor="end">30</text>
<text x="2054" y="265.5" font-size="67" text-anchor="end">35</text>
<text x="2054" y="160.6" font-size="67" text-anchor="end">40</text>
<text x="2054" y="55.8" font-size="67" text-anchor="end">45</text>
<text x="2255.1" y="1049.3" font-size="67.5" text-anchor="middle">5</text>
<text x="2432.2" y="1049.3" font-size="67.5" text-anchor="middle">10</text>
<text x="2609.3" y="1049.3" font-size="67.5" text-anchor="middle">15</text>
<text x="2786.4" y="1049.3" font-size="67.5" text-anchor="middle">20</text>
<text x="2963.5" y="1049.3" font-size="67.5" text-anchor="middle">25</text>
<text x="3140.6" y="1049.3" font-size="67.5" text-anchor="middle">30</text>
<text x="3317.7" y="1049.3" font-size="67.5" text-anchor="middle">35</text>
<text x="3494.8" y="1049.3" font-size="67.5" text-anchor="middle">40</text>
<line x1="2112" y1="81.2" x2="2239.6" y2="81.2" stroke="#302e40" stroke-width="5"/>
<text x="2257.8" y="102.3" font-size="67">C0-1</text>
<line x1="2432.3" y1="81.2" x2="2555.9" y2="81.2" stroke="#ff2050" stroke-width="5"/>
<text x="2574.6" y="102.3" font-size="67">C0-2</text>
<line x1="2751" y1="81.2" x2="2871" y2="81.2" stroke="#2468f0" stroke-width="5"/>
<text x="2889" y="102.3" font-size="67">C0-3</text>
<line x1="2112" y1="151" x2="2239.6" y2="151" stroke="#4cd838" stroke-width="5"/>
<text x="2257.8" y="172" font-size="67">C1-1</text>
<line x1="2432.3" y1="151" x2="2555.9" y2="151" stroke="#9775f0" stroke-width="5"/>
<text x="2574.6" y="172" font-size="67">C1-2</text>
<line x1="2751" y1="151" x2="2871" y2="151" stroke="#c9830e" stroke-width="5"/>
<text x="2889" y="172" font-size="67">C1-3</text>
<text x="2643.5" y="1142" font-size="67">Strain/10</text>
<rect x="2888.7" y="1104.6" width="21.7" height="2.6" fill="#000"/>
<text transform="translate(2907.4,1123.5) scale(0.84,1)" x="0" y="0" font-size="47">3</text>
<text transform="translate(1940,657.7) rotate(-90)" x="0" y="0" font-size="67">Stress/MPa</text>
<text x="2325.8" y="1237" font-size="66.8">(b) Stress-strain curves of samples</text>
</g>
</svg></body></html>
